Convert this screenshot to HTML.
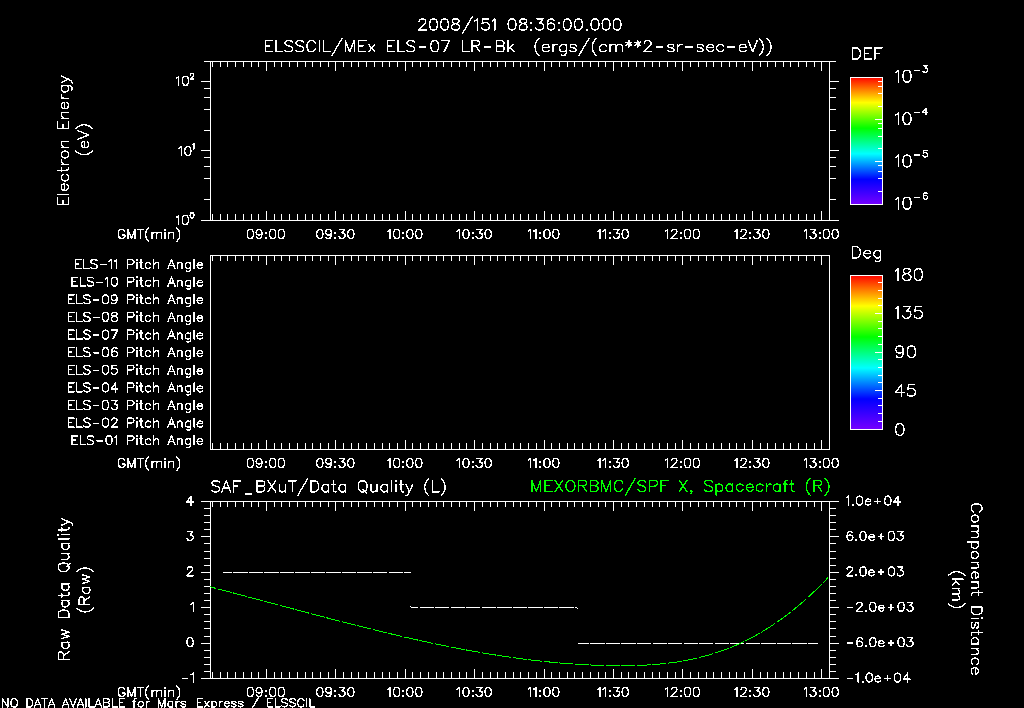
<!DOCTYPE html>
<html><head><meta charset="utf-8"><title>ELSSCIL/MEx ELS-07 LR-Bk</title>
<style>html,body{margin:0;padding:0;background:#000;}svg{display:block;}</style></head>
<body><svg width="1024" height="708" viewBox="0 0 1024 708">
<defs><linearGradient id="rb" x1="0" y1="0" x2="0" y2="1"><stop offset="0" stop-color="#ff0000"/><stop offset="0.2" stop-color="#ffff00"/><stop offset="0.4" stop-color="#00ff00"/><stop offset="0.6" stop-color="#00ffff"/><stop offset="0.8" stop-color="#0000ff"/><stop offset="1" stop-color="#7800ff"/></linearGradient></defs>
<rect width="1024" height="708" fill="#000"/>
<rect x="850" y="77" width="33" height="128" fill="url(#rb)"/><rect x="850" y="275" width="33" height="155" fill="url(#rb)"/>
<path d="M210 61.5H830M210 220.5H830M210.5 61V221M829.5 61V221M212.5 62V67M212.5 214V220M220.5 62V67M220.5 214V220M227.5 62V67M227.5 214V220M235.5 62V67M235.5 214V220M243.5 62V67M243.5 214V220M251.5 62V67M251.5 214V220M258.5 62V67M258.5 214V220M266.5 62V71M266.5 211V220M274.5 62V67M274.5 214V220M281.5 62V67M281.5 214V220M289.5 62V67M289.5 214V220M297.5 62V67M297.5 214V220M305.5 62V67M305.5 214V220M312.5 62V67M312.5 214V220M320.5 62V67M320.5 214V220M328.5 62V67M328.5 214V220M335.5 62V71M335.5 211V220M343.5 62V67M343.5 214V220M351.5 62V67M351.5 214V220M358.5 62V67M358.5 214V220M366.5 62V67M366.5 214V220M374.5 62V67M374.5 214V220M382.5 62V67M382.5 214V220M389.5 62V67M389.5 214V220M397.5 62V67M397.5 214V220M405.5 62V71M405.5 211V220M412.5 62V67M412.5 214V220M420.5 62V67M420.5 214V220M428.5 62V67M428.5 214V220M436.5 62V67M436.5 214V220M443.5 62V67M443.5 214V220M451.5 62V67M451.5 214V220M459.5 62V67M459.5 214V220M466.5 62V67M466.5 214V220M474.5 62V71M474.5 211V220M482.5 62V67M482.5 214V220M490.5 62V67M490.5 214V220M497.5 62V67M497.5 214V220M505.5 62V67M505.5 214V220M513.5 62V67M513.5 214V220M520.5 62V67M520.5 214V220M528.5 62V67M528.5 214V220M536.5 62V67M536.5 214V220M544.5 62V71M544.5 211V220M551.5 62V67M551.5 214V220M559.5 62V67M559.5 214V220M567.5 62V67M567.5 214V220M574.5 62V67M574.5 214V220M582.5 62V67M582.5 214V220M590.5 62V67M590.5 214V220M598.5 62V67M598.5 214V220M605.5 62V67M605.5 214V220M613.5 62V71M613.5 211V220M621.5 62V67M621.5 214V220M628.5 62V67M628.5 214V220M636.5 62V67M636.5 214V220M644.5 62V67M644.5 214V220M652.5 62V67M652.5 214V220M659.5 62V67M659.5 214V220M667.5 62V67M667.5 214V220M675.5 62V67M675.5 214V220M682.5 62V71M682.5 211V220M690.5 62V67M690.5 214V220M698.5 62V67M698.5 214V220M706.5 62V67M706.5 214V220M713.5 62V67M713.5 214V220M721.5 62V67M721.5 214V220M729.5 62V67M729.5 214V220M736.5 62V67M736.5 214V220M744.5 62V67M744.5 214V220M752.5 62V71M752.5 211V220M760.5 62V67M760.5 214V220M767.5 62V67M767.5 214V220M775.5 62V67M775.5 214V220M783.5 62V67M783.5 214V220M790.5 62V67M790.5 214V220M798.5 62V67M798.5 214V220M806.5 62V67M806.5 214V220M814.5 62V67M814.5 214V220M821.5 62V71M821.5 211V220M210 255.5H830M210 449.5H830M210.5 255V450M829.5 255V450M212.5 256V261M212.5 443V449M220.5 256V261M220.5 443V449M227.5 256V261M227.5 443V449M235.5 256V261M235.5 443V449M243.5 256V261M243.5 443V449M251.5 256V261M251.5 443V449M258.5 256V261M258.5 443V449M266.5 256V265M266.5 440V449M274.5 256V261M274.5 443V449M281.5 256V261M281.5 443V449M289.5 256V261M289.5 443V449M297.5 256V261M297.5 443V449M305.5 256V261M305.5 443V449M312.5 256V261M312.5 443V449M320.5 256V261M320.5 443V449M328.5 256V261M328.5 443V449M335.5 256V265M335.5 440V449M343.5 256V261M343.5 443V449M351.5 256V261M351.5 443V449M358.5 256V261M358.5 443V449M366.5 256V261M366.5 443V449M374.5 256V261M374.5 443V449M382.5 256V261M382.5 443V449M389.5 256V261M389.5 443V449M397.5 256V261M397.5 443V449M405.5 256V265M405.5 440V449M412.5 256V261M412.5 443V449M420.5 256V261M420.5 443V449M428.5 256V261M428.5 443V449M436.5 256V261M436.5 443V449M443.5 256V261M443.5 443V449M451.5 256V261M451.5 443V449M459.5 256V261M459.5 443V449M466.5 256V261M466.5 443V449M474.5 256V265M474.5 440V449M482.5 256V261M482.5 443V449M490.5 256V261M490.5 443V449M497.5 256V261M497.5 443V449M505.5 256V261M505.5 443V449M513.5 256V261M513.5 443V449M520.5 256V261M520.5 443V449M528.5 256V261M528.5 443V449M536.5 256V261M536.5 443V449M544.5 256V265M544.5 440V449M551.5 256V261M551.5 443V449M559.5 256V261M559.5 443V449M567.5 256V261M567.5 443V449M574.5 256V261M574.5 443V449M582.5 256V261M582.5 443V449M590.5 256V261M590.5 443V449M598.5 256V261M598.5 443V449M605.5 256V261M605.5 443V449M613.5 256V265M613.5 440V449M621.5 256V261M621.5 443V449M628.5 256V261M628.5 443V449M636.5 256V261M636.5 443V449M644.5 256V261M644.5 443V449M652.5 256V261M652.5 443V449M659.5 256V261M659.5 443V449M667.5 256V261M667.5 443V449M675.5 256V261M675.5 443V449M682.5 256V265M682.5 440V449M690.5 256V261M690.5 443V449M698.5 256V261M698.5 443V449M706.5 256V261M706.5 443V449M713.5 256V261M713.5 443V449M721.5 256V261M721.5 443V449M729.5 256V261M729.5 443V449M736.5 256V261M736.5 443V449M744.5 256V261M744.5 443V449M752.5 256V265M752.5 440V449M760.5 256V261M760.5 443V449M767.5 256V261M767.5 443V449M775.5 256V261M775.5 443V449M783.5 256V261M783.5 443V449M790.5 256V261M790.5 443V449M798.5 256V261M798.5 443V449M806.5 256V261M806.5 443V449M814.5 256V261M814.5 443V449M821.5 256V265M821.5 440V449M210 501.5H830M210 678.5H830M210.5 501V679M829.5 501V679M212.5 502V507M212.5 672V678M220.5 502V507M220.5 672V678M227.5 502V507M227.5 672V678M235.5 502V507M235.5 672V678M243.5 502V507M243.5 672V678M251.5 502V507M251.5 672V678M258.5 502V507M258.5 672V678M266.5 502V511M266.5 669V678M274.5 502V507M274.5 672V678M281.5 502V507M281.5 672V678M289.5 502V507M289.5 672V678M297.5 502V507M297.5 672V678M305.5 502V507M305.5 672V678M312.5 502V507M312.5 672V678M320.5 502V507M320.5 672V678M328.5 502V507M328.5 672V678M335.5 502V511M335.5 669V678M343.5 502V507M343.5 672V678M351.5 502V507M351.5 672V678M358.5 502V507M358.5 672V678M366.5 502V507M366.5 672V678M374.5 502V507M374.5 672V678M382.5 502V507M382.5 672V678M389.5 502V507M389.5 672V678M397.5 502V507M397.5 672V678M405.5 502V511M405.5 669V678M412.5 502V507M412.5 672V678M420.5 502V507M420.5 672V678M428.5 502V507M428.5 672V678M436.5 502V507M436.5 672V678M443.5 502V507M443.5 672V678M451.5 502V507M451.5 672V678M459.5 502V507M459.5 672V678M466.5 502V507M466.5 672V678M474.5 502V511M474.5 669V678M482.5 502V507M482.5 672V678M490.5 502V507M490.5 672V678M497.5 502V507M497.5 672V678M505.5 502V507M505.5 672V678M513.5 502V507M513.5 672V678M520.5 502V507M520.5 672V678M528.5 502V507M528.5 672V678M536.5 502V507M536.5 672V678M544.5 502V511M544.5 669V678M551.5 502V507M551.5 672V678M559.5 502V507M559.5 672V678M567.5 502V507M567.5 672V678M574.5 502V507M574.5 672V678M582.5 502V507M582.5 672V678M590.5 502V507M590.5 672V678M598.5 502V507M598.5 672V678M605.5 502V507M605.5 672V678M613.5 502V511M613.5 669V678M621.5 502V507M621.5 672V678M628.5 502V507M628.5 672V678M636.5 502V507M636.5 672V678M644.5 502V507M644.5 672V678M652.5 502V507M652.5 672V678M659.5 502V507M659.5 672V678M667.5 502V507M667.5 672V678M675.5 502V507M675.5 672V678M682.5 502V511M682.5 669V678M690.5 502V507M690.5 672V678M698.5 502V507M698.5 672V678M706.5 502V507M706.5 672V678M713.5 502V507M713.5 672V678M721.5 502V507M721.5 672V678M729.5 502V507M729.5 672V678M736.5 502V507M736.5 672V678M744.5 502V507M744.5 672V678M752.5 502V511M752.5 669V678M760.5 502V507M760.5 672V678M767.5 502V507M767.5 672V678M775.5 502V507M775.5 672V678M783.5 502V507M783.5 672V678M790.5 502V507M790.5 672V678M798.5 502V507M798.5 672V678M806.5 502V507M806.5 672V678M814.5 502V507M814.5 672V678M821.5 502V511M821.5 669V678M201 220.5H210M830 220.5H839M201 150.5H210M830 150.5H839M201 81.5H210M830 81.5H839M204 199.5H210M830 199.5H836M204 178.5H210M830 178.5H836M204 166.5H210M830 166.5H836M204 157.5H210M830 157.5H836M204 130.5H210M830 130.5H836M204 109.5H210M830 109.5H836M204 97.5H210M830 97.5H836M204 88.5H210M830 88.5H836M204 61.5H210M830 61.5H836M201 501.5H210M830 501.5H839M204 508.5H210M830 508.5H836M204 515.5H210M830 515.5H836M204 522.5H210M830 522.5H836M204 529.5H210M830 529.5H836M201 536.5H210M830 536.5H839M204 543.5H210M830 543.5H836M204 551.5H210M830 551.5H836M204 558.5H210M830 558.5H836M204 565.5H210M830 565.5H836M201 572.5H210M830 572.5H839M204 579.5H210M830 579.5H836M204 586.5H210M830 586.5H836M204 593.5H210M830 593.5H836M204 600.5H210M830 600.5H836M201 607.5H210M830 607.5H839M204 614.5H210M830 614.5H836M204 621.5H210M830 621.5H836M204 628.5H210M830 628.5H836M204 636.5H210M830 636.5H836M201 643.5H210M830 643.5H839M204 650.5H210M830 650.5H836M204 657.5H210M830 657.5H836M204 664.5H210M830 664.5H836M204 671.5H210M830 671.5H836M201 678.5H210M830 678.5H839M850 77.5H883M850 204.5H883M850.5 77V205M882.5 77V205M875 119.5H882M875 161.5H882M878 106.5H882M878 93.5H882M878 86.5H882M878 81.5H882M878 148.5H882M878 136.5H882M878 128.5H882M878 123.5H882M878 191.5H882M878 178.5H882M878 171.5H882M878 165.5H882M850 275.5H883M850 429.5H883M850.5 275V430M882.5 275V430M875 390.5H882M875 352.5H882M875 313.5H882M878 421.5H882M878 413.5H882M878 405.5H882M878 398.5H882M878 382.5H882M878 375.5H882M878 367.5H882M878 359.5H882M878 344.5H882M878 336.5H882M878 328.5H882M878 321.5H882M878 305.5H882M878 298.5H882M878 290.5H882M878 282.5H882M223 572.5H232M233.2 572.5H247.53M248.73 572.5H263.06M264.26 572.5H278.59M279.79 572.5H294.12M295.32 572.5H309.65M310.85 572.5H325.18M326.38 572.5H340.71M341.91 572.5H356.24M357.44 572.5H371.77M372.97 572.5H387.3M388.5 572.5H402.83M404.03 572.5H411M411 607.5H418.36M419.56 607.5H433.89M435.09 607.5H449.42M450.62 607.5H464.95M466.15 607.5H480.48M481.68 607.5H496.01M497.21 607.5H511.54M512.74 607.5H527.07M528.27 607.5H542.6M543.8 607.5H558.13M559.33 607.5H573.66M574.86 607.5H577M410 606.5h1M577 608.5h1M578 643.5H589.19M590.39 643.5H604.72M605.92 643.5H620.25M621.45 643.5H635.78M636.98 643.5H651.31M652.51 643.5H666.84M668.04 643.5H682.37M683.57 643.5H697.9M699.1 643.5H713.43M714.63 643.5H728.96M730.16 643.5H744.49M745.69 643.5H760.02M761.22 643.5H775.55M776.75 643.5H791.08M792.28 643.5H806.61M807.81 643.5H818" stroke="#fff" stroke-width="1" fill="none" shape-rendering="crispEdges"/>
<path d="M210 586.85 L211 587.11 L212 587.37 L213 587.63 L214 587.89 L215 588.15 L216 588.41M217.57 588.82 L218.57 589.08 L219.57 589.34 L220.57 589.6 L221.57 589.87 L222.57 590.13 L223.57 590.39 L224.57 590.65 L225.57 590.92 L226.57 591.18 L227.57 591.44 L228.57 591.7 L229.57 591.97 L230.57 592.23 L231.57 592.49M233.1 592.9 L234.1 593.16 L235.1 593.43 L236.1 593.69 L237.1 593.96 L238.1 594.22 L239.1 594.49 L240.1 594.75 L241.1 595.02 L242.1 595.28 L243.1 595.55 L244.1 595.81 L245.1 596.08 L246.1 596.35 L247.1 596.61M248.63 597.02 L249.63 597.29 L250.63 597.55 L251.63 597.82 L252.63 598.09 L253.63 598.35 L254.63 598.62 L255.63 598.89 L256.63 599.15 L257.63 599.42 L258.63 599.69 L259.63 599.95 L260.63 600.22 L261.63 600.49 L262.63 600.76M264.16 601.17 L265.16 601.43 L266.16 601.7 L267.16 601.97 L268.16 602.24 L269.16 602.5 L270.16 602.77 L271.16 603.04 L272.16 603.31 L273.16 603.57 L274.16 603.84 L275.16 604.11 L276.16 604.38 L277.16 604.64 L278.16 604.91M279.69 605.32 L280.69 605.59 L281.69 605.86 L282.69 606.12 L283.69 606.39 L284.69 606.66 L285.69 606.93 L286.69 607.19 L287.69 607.46 L288.69 607.73 L289.69 608 L290.69 608.26 L291.69 608.53 L292.69 608.8 L293.69 609.06M295.22 609.47 L296.22 609.74 L297.22 610 L298.22 610.27 L299.22 610.54 L300.22 610.8 L301.22 611.07 L302.22 611.33 L303.22 611.6 L304.22 611.87 L305.22 612.13 L306.22 612.4 L307.22 612.66 L308.22 612.93 L309.22 613.19M310.75 613.6 L311.75 613.86 L312.75 614.13 L313.75 614.39 L314.75 614.65 L315.75 614.92 L316.75 615.18 L317.75 615.44 L318.75 615.71 L319.75 615.97 L320.75 616.23 L321.75 616.5 L322.75 616.76 L323.75 617.02 L324.75 617.28M326.28 617.68 L327.28 617.94 L328.28 618.2 L329.28 618.47 L330.28 618.73 L331.28 618.99 L332.28 619.25 L333.28 619.51 L334.28 619.77 L335.28 620.02 L336.28 620.28 L337.28 620.54 L338.28 620.8 L339.28 621.06 L340.28 621.32M341.81 621.71 L342.81 621.97 L343.81 622.22 L344.81 622.48 L345.81 622.74 L346.81 622.99 L347.81 623.25 L348.81 623.5 L349.81 623.76 L350.81 624.01 L351.81 624.27 L352.81 624.52 L353.81 624.77 L354.81 625.03 L355.81 625.28M357.34 625.67 L358.34 625.92 L359.34 626.17 L360.34 626.42 L361.34 626.67 L362.34 626.92 L363.34 627.17 L364.34 627.42 L365.34 627.67 L366.34 627.92 L367.34 628.17 L368.34 628.42 L369.34 628.66 L370.34 628.91 L371.34 629.16M372.87 629.53 L373.87 629.78 L374.87 630.02 L375.87 630.27 L376.87 630.51 L377.87 630.76 L378.87 631 L379.87 631.24 L380.87 631.48 L381.87 631.73 L382.87 631.97 L383.87 632.21 L384.87 632.45 L385.87 632.69 L386.87 632.93M388.4 633.29 L389.4 633.53 L390.4 633.77 L391.4 634 L392.4 634.24 L393.4 634.48 L394.4 634.71 L395.4 634.95 L396.4 635.18 L397.4 635.42 L398.4 635.65 L399.4 635.88 L400.4 636.11 L401.4 636.35 L402.4 636.58M403.93 636.93 L404.93 637.16 L405.93 637.39 L406.93 637.62 L407.93 637.84 L408.93 638.07 L409.93 638.3 L410.93 638.52 L411.93 638.75 L412.93 638.97 L413.93 639.2 L414.93 639.42 L415.93 639.65 L416.93 639.87 L417.93 640.09M419.46 640.43 L420.46 640.65 L421.46 640.87 L422.46 641.09 L423.46 641.3 L424.46 641.52 L425.46 641.74 L426.46 641.95 L427.46 642.17 L428.46 642.38 L429.46 642.6 L430.46 642.81 L431.46 643.02 L432.46 643.24 L433.46 643.45M434.99 643.77 L435.99 643.98 L436.99 644.19 L437.99 644.4 L438.99 644.6 L439.99 644.81 L440.99 645.01 L441.99 645.22 L442.99 645.42 L443.99 645.63 L444.99 645.83 L445.99 646.03 L446.99 646.23 L447.99 646.43 L448.99 646.63M450.52 646.94 L451.52 647.14 L452.52 647.33 L453.52 647.53 L454.52 647.72 L455.52 647.92 L456.52 648.11 L457.52 648.31 L458.52 648.5 L459.52 648.69 L460.52 648.88 L461.52 649.07 L462.52 649.26 L463.52 649.45 L464.52 649.63M466.05 649.92 L467.05 650.1 L468.05 650.29 L469.05 650.47 L470.05 650.65 L471.05 650.84 L472.05 651.02 L473.05 651.2 L474.05 651.38 L475.05 651.55 L476.05 651.73 L477.05 651.91 L478.05 652.08 L479.05 652.26 L480.05 652.43M481.58 652.69 L482.58 652.87 L483.58 653.04 L484.58 653.21 L485.58 653.37 L486.58 653.54 L487.58 653.71 L488.58 653.87 L489.58 654.04 L490.58 654.2 L491.58 654.36 L492.58 654.53 L493.58 654.69 L494.58 654.85 L495.58 655.01M497.11 655.25 L498.11 655.4 L499.11 655.56 L500.11 655.71 L501.11 655.87 L502.11 656.02 L503.11 656.17 L504.11 656.32 L505.11 656.47 L506.11 656.62 L507.11 656.77 L508.11 656.91 L509.11 657.06 L510.11 657.2 L511.11 657.34M512.64 657.56 L513.64 657.7 L514.64 657.84 L515.64 657.98 L516.64 658.12 L517.64 658.25 L518.64 658.39 L519.64 658.52 L520.64 658.66 L521.64 658.79 L522.64 658.92 L523.64 659.05 L524.64 659.18 L525.64 659.3 L526.64 659.43M528.17 659.62 L529.17 659.74 L530.17 659.87 L531.17 659.99 L532.17 660.11 L533.17 660.23 L534.17 660.35 L535.17 660.46 L536.17 660.58 L537.17 660.69 L538.17 660.8 L539.17 660.92 L540.17 661.03 L541.17 661.14 L542.17 661.25M543.7 661.41 L544.7 661.51 L545.7 661.62 L546.7 661.72 L547.7 661.82 L548.7 661.92 L549.7 662.02 L550.7 662.12 L551.7 662.22 L552.7 662.31 L553.7 662.41 L554.7 662.5 L555.7 662.59 L556.7 662.69 L557.7 662.77M559.23 662.91 L560.23 663 L561.23 663.08 L562.23 663.16 L563.23 663.25 L564.23 663.33 L565.23 663.41 L566.23 663.49 L567.23 663.56 L568.23 663.64 L569.23 663.71 L570.23 663.79 L571.23 663.86 L572.23 663.93 L573.23 664M574.76 664.1 L575.76 664.17 L576.76 664.24 L577.76 664.3 L578.76 664.36 L579.76 664.42 L580.76 664.48 L581.76 664.54 L582.76 664.6 L583.76 664.65 L584.76 664.7 L585.76 664.76 L586.76 664.81 L587.76 664.86 L588.76 664.91M590.29 664.98 L591.29 665.02 L592.29 665.07 L593.29 665.11 L594.29 665.15 L595.29 665.19 L596.29 665.23 L597.29 665.26 L598.29 665.3 L599.29 665.33 L600.29 665.36 L601.29 665.39 L602.29 665.42 L603.29 665.45 L604.29 665.48M605.82 665.51 L606.82 665.54 L607.82 665.56 L608.82 665.58 L609.82 665.6 L610.82 665.61 L611.82 665.63 L612.82 665.64 L613.82 665.65 L614.82 665.66 L615.82 665.67 L616.82 665.68 L617.82 665.69 L618.82 665.69 L619.82 665.69M621.35 665.69 L622.35 665.69 L623.35 665.69 L624.35 665.68 L625.35 665.68 L626.35 665.67 L627.35 665.66 L628.35 665.65 L629.35 665.63 L630.35 665.61 L631.35 665.59 L632.35 665.57 L633.35 665.55 L634.35 665.53 L635.35 665.5M636.88 665.45 L637.88 665.42 L638.88 665.38 L639.88 665.35 L640.88 665.31 L641.88 665.26 L642.88 665.22 L643.88 665.17 L644.88 665.12 L645.88 665.07 L646.88 665.01 L647.88 664.95 L648.88 664.89 L649.88 664.83 L650.88 664.76M652.41 664.66 L653.41 664.58 L654.41 664.51 L655.41 664.43 L656.41 664.35 L657.41 664.26 L658.41 664.17 L659.41 664.08 L660.41 663.99 L661.41 663.89 L662.41 663.79 L663.41 663.68 L664.41 663.58 L665.41 663.47 L666.41 663.35M667.94 663.17 L668.94 663.05 L669.94 662.92 L670.94 662.8 L671.94 662.66 L672.94 662.53 L673.94 662.39 L674.94 662.24 L675.94 662.1 L676.94 661.95 L677.94 661.79 L678.94 661.63 L679.94 661.47 L680.94 661.3 L681.94 661.13M683.47 660.87 L684.47 660.69 L685.47 660.5 L686.47 660.32 L687.47 660.12 L688.47 659.93 L689.47 659.73 L690.47 659.52 L691.47 659.31 L692.47 659.1 L693.47 658.88 L694.47 658.66 L695.47 658.44 L696.47 658.21 L697.47 657.97M699 657.61 L700 657.36 L701 657.11 L702 656.85 L703 656.59 L704 656.33 L705 656.06 L706 655.79 L707 655.51 L708 655.22 L709 654.94 L710 654.64 L711 654.35 L712 654.04 L713 653.73M714.53 653.25 L715.53 652.93 L716.53 652.61 L717.53 652.28 L718.53 651.94 L719.53 651.6 L720.53 651.25 L721.53 650.9 L722.53 650.54 L723.53 650.18 L724.53 649.81 L725.53 649.44 L726.53 649.06 L727.53 648.67 L728.53 648.28M730.06 647.68 L731.06 647.27 L732.06 646.86 L733.06 646.45 L734.06 646.02 L735.06 645.6 L736.06 645.16 L737.06 644.73 L738.06 644.28 L739.06 643.83 L740.06 643.37 L741.06 642.91 L742.06 642.44 L743.06 641.97 L744.06 641.49M745.59 640.74 L746.59 640.24 L747.59 639.74 L748.59 639.23 L749.59 638.72 L750.59 638.2 L751.59 637.67 L752.59 637.14 L753.59 636.6 L754.59 636.05 L755.59 635.5 L756.59 634.94 L757.59 634.37 L758.59 633.8 L759.59 633.22M761.12 632.33 L762.12 631.73 L763.12 631.13 L764.12 630.52 L765.12 629.91 L766.12 629.29 L767.12 628.66 L768.12 628.03 L769.12 627.39 L770.12 626.75 L771.12 626.09 L772.12 625.43 L773.12 624.77 L774.12 624.1 L775.12 623.42M776.65 622.37 L777.65 621.67 L778.65 620.97 L779.65 620.26 L780.65 619.54 L781.65 618.82 L782.65 618.09 L783.65 617.35 L784.65 616.61 L785.65 615.86 L786.65 615.11 L787.65 614.34 L788.65 613.57 L789.65 612.79 L790.65 612.01M792.18 610.8 L793.18 610 L794.18 609.19 L795.18 608.37 L796.18 607.55 L797.18 606.72 L798.18 605.88 L799.18 605.04 L800.18 604.19 L801.18 603.33 L802.18 602.47 L803.18 601.6 L804.18 600.72 L805.18 599.83 L806.18 598.94M807.71 597.56 L808.71 596.65 L809.71 595.73 L810.71 594.81 L811.71 593.87 L812.71 592.93 L813.71 591.99 L814.71 591.03 L815.71 590.07 L816.71 589.1 L817.71 588.12 L818.71 587.14 L819.71 586.15 L820.71 585.15 L821.71 584.15M823.24 582.59 L824.24 581.57 L825.24 580.54 L826.24 579.5 L827.24 578.45 L828.24 577.39" stroke="#00ff00" stroke-width="1" fill="none" shape-rendering="crispEdges"/>
<g stroke-linecap="round" stroke-linejoin="round" shape-rendering="crispEdges" font-family="Liberation Sans, sans-serif">
<g role="img" aria-label="2008/151 08:36:00.000"><title>2008/151 08:36:00.000</title><path d="M419.15 21.55 L419.15 21.02 L419.71 19.96 L420.26 19.43 L421.37 18.9 L423.58 18.9 L424.68 19.43 L425.24 19.96 L425.79 21.02 L425.79 22.09 L425.24 23.15 L424.13 24.74 L418.6 30.05 L426.34 30.05M432.98 18.9 L431.32 19.43 L430.21 21.02 L429.66 23.68 L429.66 25.27 L430.21 27.92 L431.32 29.52 L432.98 30.05 L434.08 30.05 L435.74 29.52 L436.85 27.92 L437.4 25.27 L437.4 23.68 L436.85 21.02 L435.74 19.43 L434.08 18.9 L432.98 18.9M444.04 18.9 L442.38 19.43 L441.27 21.02 L440.72 23.68 L440.72 25.27 L441.27 27.92 L442.38 29.52 L444.04 30.05 L445.14 30.05 L446.8 29.52 L447.91 27.92 L448.46 25.27 L448.46 23.68 L447.91 21.02 L446.8 19.43 L445.14 18.9 L444.04 18.9M454.55 18.9 L452.89 19.43 L452.33 20.49 L452.33 21.55 L452.89 22.62 L453.99 23.15 L456.2 23.68 L457.86 24.21 L458.97 25.27 L459.52 26.33 L459.52 27.92 L458.97 28.99 L458.42 29.52 L456.76 30.05 L454.55 30.05 L452.89 29.52 L452.33 28.99 L451.78 27.92 L451.78 26.33 L452.33 25.27 L453.44 24.21 L455.1 23.68 L457.31 23.15 L458.42 22.62 L458.97 21.55 L458.97 20.49 L458.42 19.43 L456.76 18.9 L454.55 18.9M472.24 16.78 L462.29 33.76M474.45 21.02 L475.56 20.49 L477.22 18.9 L477.22 30.05M488.28 18.9 L482.75 18.9 L482.2 23.68 L482.75 23.15 L484.41 22.62 L486.07 22.62 L487.73 23.15 L488.83 24.21 L489.38 25.8 L489.38 26.86 L488.83 28.46 L487.73 29.52 L486.07 30.05 L484.41 30.05 L482.75 29.52 L482.2 28.99 L481.64 27.92M492.15 21.02 L493.26 20.49 L494.91 18.9 L494.91 30.05M511.5 18.9 L509.85 19.43 L508.74 21.02 L508.19 23.68 L508.19 25.27 L508.74 27.92 L509.85 29.52 L511.5 30.05 L512.61 30.05 L514.27 29.52 L515.38 27.92 L515.93 25.27 L515.93 23.68 L515.38 21.02 L514.27 19.43 L512.61 18.9 L511.5 18.9M522.01 18.9 L520.35 19.43 L519.8 20.49 L519.8 21.55 L520.35 22.62 L521.46 23.15 L523.67 23.68 L525.33 24.21 L526.44 25.27 L526.99 26.33 L526.99 27.92 L526.44 28.99 L525.88 29.52 L524.22 30.05 L522.01 30.05 L520.35 29.52 L519.8 28.99 L519.25 27.92 L519.25 26.33 L519.8 25.27 L520.91 24.21 L522.56 23.68 L524.78 23.15 L525.88 22.62 L526.44 21.55 L526.44 20.49 L525.88 19.43 L524.22 18.9 L522.01 18.9M536.94 18.9 L543.03 18.9 L539.71 23.15 L541.37 23.15 L542.47 23.68 L543.03 24.21 L543.58 25.8 L543.58 26.86 L543.03 28.46 L541.92 29.52 L540.26 30.05 L538.6 30.05 L536.94 29.52 L536.39 28.99 L535.84 27.92M554.09 20.49 L553.53 19.43 L551.87 18.9 L550.77 18.9 L549.11 19.43 L548 21.02 L547.45 23.68 L547.45 26.33 L548 28.46 L549.11 29.52 L550.77 30.05 L551.32 30.05 L552.98 29.52 L554.09 28.46 L554.64 26.86 L554.64 26.33 L554.09 24.74 L552.98 23.68 L551.32 23.15 L550.77 23.15 L549.11 23.68 L548 24.74 L547.45 26.33M566.8 18.9 L565.14 19.43 L564.04 21.02 L563.49 23.68 L563.49 25.27 L564.04 27.92 L565.14 29.52 L566.8 30.05 L567.91 30.05 L569.57 29.52 L570.68 27.92 L571.23 25.27 L571.23 23.68 L570.68 21.02 L569.57 19.43 L567.91 18.9 L566.8 18.9M577.86 18.9 L576.21 19.43 L575.1 21.02 L574.55 23.68 L574.55 25.27 L575.1 27.92 L576.21 29.52 L577.86 30.05 L578.97 30.05 L580.63 29.52 L581.74 27.92 L582.29 25.27 L582.29 23.68 L581.74 21.02 L580.63 19.43 L578.97 18.9 L577.86 18.9M594.45 18.9 L592.8 19.43 L591.69 21.02 L591.14 23.68 L591.14 25.27 L591.69 27.92 L592.8 29.52 L594.45 30.05 L595.56 30.05 L597.22 29.52 L598.33 27.92 L598.88 25.27 L598.88 23.68 L598.33 21.02 L597.22 19.43 L595.56 18.9 L594.45 18.9M605.51 18.9 L603.86 19.43 L602.75 21.02 L602.2 23.68 L602.2 25.27 L602.75 27.92 L603.86 29.52 L605.51 30.05 L606.62 30.05 L608.28 29.52 L609.38 27.92 L609.94 25.27 L609.94 23.68 L609.38 21.02 L608.28 19.43 L606.62 18.9 L605.51 18.9M616.57 18.9 L614.92 19.43 L613.81 21.02 L613.26 23.68 L613.26 25.27 L613.81 27.92 L614.92 29.52 L616.57 30.05 L617.68 30.05 L619.34 29.52 L620.45 27.92 L621 25.27 L621 23.68 L620.45 21.02 L619.34 19.43 L617.68 18.9 L616.57 18.9" stroke="#fff" stroke-width="1.4" fill="none"/><path d="M530.41 22.15h2v2h-2zM530.41 28.52h2v2h-2zM558.06 22.15h2v2h-2zM558.06 28.52h2v2h-2zM585.71 28.52h2v2h-2z" fill="#fff"/></g>
<g role="img" aria-label="ELSSCIL/MEx ELS-07 LR-Bk  (ergs/(cm**2-sr-sec-eV))"><title>ELSSCIL/MEx ELS-07 LR-Bk  (ergs/(cm**2-sr-sec-eV))</title><path d="M265.4 40.6 L265.4 51.79M265.4 40.6 L272.61 40.6M265.4 45.93 L269.84 45.93M265.4 51.79 L272.61 51.79M275.94 40.6 L275.94 51.79M275.94 51.79 L282.6 51.79M292.59 42.2 L291.48 41.13 L289.82 40.6 L287.6 40.6 L285.93 41.13 L284.82 42.2 L284.82 43.26 L285.38 44.33 L285.93 44.86 L287.04 45.4 L290.37 46.46 L291.48 46.99 L292.04 47.53 L292.59 48.59 L292.59 50.19 L291.48 51.26 L289.82 51.79 L287.6 51.79 L285.93 51.26 L284.82 50.19M303.69 42.2 L302.58 41.13 L300.92 40.6 L298.7 40.6 L297.03 41.13 L295.92 42.2 L295.92 43.26 L296.48 44.33 L297.03 44.86 L298.14 45.4 L301.47 46.46 L302.58 46.99 L303.14 47.53 L303.69 48.59 L303.69 50.19 L302.58 51.26 L300.92 51.79 L298.7 51.79 L297.03 51.26 L295.92 50.19M315.35 43.26 L314.79 42.2 L313.68 41.13 L312.57 40.6 L310.35 40.6 L309.24 41.13 L308.13 42.2 L307.58 43.26 L307.02 44.86 L307.02 47.53 L307.58 49.12 L308.13 50.19 L309.24 51.26 L310.35 51.79 L312.57 51.79 L313.68 51.26 L314.79 50.19 L315.35 49.12M319.23 40.6 L319.23 51.79M323.67 40.6 L323.67 51.79M323.67 51.79 L330.33 51.79M341.99 38.47 L332 55.52M345.32 40.6 L345.32 51.79M345.32 40.6 L349.76 51.79M354.2 40.6 L349.76 51.79M354.2 40.6 L354.2 51.79M358.64 40.6 L358.64 51.79M358.64 40.6 L365.85 40.6M358.64 45.93 L363.08 45.93M358.64 51.79 L365.85 51.79M368.63 44.33 L374.73 51.79M374.73 44.33 L368.63 51.79M387.5 40.6 L387.5 51.79M387.5 40.6 L394.71 40.6M387.5 45.93 L391.94 45.93M387.5 51.79 L394.71 51.79M398.04 40.6 L398.04 51.79M398.04 51.79 L404.7 51.79M414.69 42.2 L413.58 41.13 L411.92 40.6 L409.7 40.6 L408.03 41.13 L406.92 42.2 L406.92 43.26 L407.48 44.33 L408.03 44.86 L409.14 45.4 L412.47 46.46 L413.58 46.99 L414.14 47.53 L414.69 48.59 L414.69 50.19 L413.58 51.26 L411.92 51.79 L409.7 51.79 L408.03 51.26 L406.92 50.19M419.13 46.99 L425.79 46.99M434.12 40.6 L432.45 41.13 L431.34 42.73 L430.79 45.4 L430.79 46.99 L431.34 49.66 L432.45 51.26 L434.12 51.79 L435.23 51.79 L436.89 51.26 L438 49.66 L438.56 46.99 L438.56 45.4 L438 42.73 L436.89 41.13 L435.23 40.6 L434.12 40.6M449.66 40.6 L444.11 51.79M441.89 40.6 L449.66 40.6M462.42 40.6 L462.42 51.79M462.42 51.79 L469.08 51.79M471.86 40.6 L471.86 51.79M471.86 40.6 L476.85 40.6 L478.52 41.13 L479.07 41.67 L479.63 42.73 L479.63 43.8 L479.07 44.86 L478.52 45.4 L476.85 45.93 L471.86 45.93M475.75 45.93 L479.63 51.79M484.07 46.99 L490.73 46.99M496.28 40.6 L496.28 51.79M496.28 40.6 L501.27 40.6 L502.94 41.13 L503.5 41.67 L504.05 42.73 L504.05 43.8 L503.5 44.86 L502.94 45.4 L501.27 45.93M496.28 45.93 L501.27 45.93 L502.94 46.46 L503.5 46.99 L504.05 48.06 L504.05 49.66 L503.5 50.72 L502.94 51.26 L501.27 51.79 L496.28 51.79M507.93 40.6 L507.93 51.79M513.49 44.33 L507.93 49.66M510.15 47.53 L514.04 51.79M539.01 38.47 L537.9 39.53 L536.79 41.13 L535.68 43.26 L535.13 45.93 L535.13 48.06 L535.68 50.72 L536.79 52.85 L537.9 54.45 L539.01 55.52M542.35 47.53 L549 47.53 L549 46.46 L548.45 45.4 L547.89 44.86 L546.78 44.33 L545.12 44.33 L544.01 44.86 L542.9 45.93 L542.35 47.53 L542.35 48.59 L542.9 50.19 L544.01 51.26 L545.12 51.79 L546.78 51.79 L547.89 51.26 L549 50.19M552.89 44.33 L552.89 51.79M552.89 47.53 L553.44 45.93 L554.55 44.86 L555.66 44.33 L557.33 44.33M566.21 44.33 L566.21 52.85 L565.65 54.45 L565.1 54.99 L563.99 55.52 L562.33 55.52 L561.21 54.99M566.21 45.93 L565.1 44.86 L563.99 44.33 L562.33 44.33 L561.21 44.86 L560.11 45.93 L559.55 47.53 L559.55 48.59 L560.11 50.19 L561.21 51.26 L562.33 51.79 L563.99 51.79 L565.1 51.26 L566.21 50.19M576.2 45.93 L575.64 44.86 L573.98 44.33 L572.32 44.33 L570.65 44.86 L570.1 45.93 L570.65 46.99 L571.76 47.53 L574.53 48.06 L575.64 48.59 L576.2 49.66 L576.2 50.19 L575.64 51.26 L573.98 51.79 L572.32 51.79 L570.65 51.26 L570.1 50.19M588.96 38.47 L578.97 55.52M596.18 38.47 L595.07 39.53 L593.96 41.13 L592.85 43.26 L592.29 45.93 L592.29 48.06 L592.85 50.72 L593.96 52.85 L595.07 54.45 L596.18 55.52M606.17 45.93 L605.06 44.86 L603.95 44.33 L602.28 44.33 L601.17 44.86 L600.07 45.93 L599.51 47.53 L599.51 48.59 L600.07 50.19 L601.17 51.26 L602.28 51.79 L603.95 51.79 L605.06 51.26 L606.17 50.19M610.06 44.33 L610.06 51.79M610.06 46.46 L611.72 44.86 L612.83 44.33 L614.5 44.33 L615.61 44.86 L616.16 46.46 L616.16 51.79M616.16 46.46 L617.83 44.86 L618.93 44.33 L620.6 44.33 L621.71 44.86 L622.26 46.46 L622.26 51.79M628.92 40.6 L628.92 46.99M626.15 42.2 L631.7 45.4M631.7 42.2 L626.15 45.4M637.81 40.6 L637.81 46.99M635.03 42.2 L640.58 45.4M640.58 42.2 L635.03 45.4M644.46 43.26 L644.46 42.73 L645.02 41.67 L645.58 41.13 L646.68 40.6 L648.9 40.6 L650.01 41.13 L650.57 41.67 L651.12 42.73 L651.12 43.8 L650.57 44.86 L649.46 46.46 L643.91 51.79 L651.68 51.79M656.12 46.99 L662.78 46.99M673.88 45.93 L673.33 44.86 L671.66 44.33 L670 44.33 L668.33 44.86 L667.77 45.93 L668.33 46.99 L669.44 47.53 L672.21 48.06 L673.33 48.59 L673.88 49.66 L673.88 50.19 L673.33 51.26 L671.66 51.79 L670 51.79 L668.33 51.26 L667.77 50.19M677.76 44.33 L677.76 51.79M677.76 47.53 L678.32 45.93 L679.43 44.86 L680.54 44.33 L682.2 44.33M685.53 46.99 L692.19 46.99M703.3 45.93 L702.74 44.86 L701.08 44.33 L699.41 44.33 L697.75 44.86 L697.19 45.93 L697.75 46.99 L698.86 47.53 L701.63 48.06 L702.74 48.59 L703.3 49.66 L703.3 50.19 L702.74 51.26 L701.08 51.79 L699.41 51.79 L697.75 51.26 L697.19 50.19M706.62 47.53 L713.28 47.53 L713.28 46.46 L712.73 45.4 L712.17 44.86 L711.07 44.33 L709.4 44.33 L708.29 44.86 L707.18 45.93 L706.62 47.53 L706.62 48.59 L707.18 50.19 L708.29 51.26 L709.4 51.79 L711.07 51.79 L712.17 51.26 L713.28 50.19M723.27 45.93 L722.16 44.86 L721.06 44.33 L719.39 44.33 L718.28 44.86 L717.17 45.93 L716.62 47.53 L716.62 48.59 L717.17 50.19 L718.28 51.26 L719.39 51.79 L721.06 51.79 L722.16 51.26 L723.27 50.19M727.71 46.99 L734.38 46.99M739.37 47.53 L746.03 47.53 L746.03 46.46 L745.47 45.4 L744.92 44.86 L743.81 44.33 L742.14 44.33 L741.03 44.86 L739.92 45.93 L739.37 47.53 L739.37 48.59 L739.92 50.19 L741.03 51.26 L742.14 51.79 L743.81 51.79 L744.92 51.26 L746.03 50.19M748.25 40.6 L752.69 51.79M757.13 40.6 L752.69 51.79M759.35 38.47 L760.46 39.53 L761.57 41.13 L762.68 43.26 L763.24 45.93 L763.24 48.06 L762.68 50.72 L761.57 52.85 L760.46 54.45 L759.35 55.52M767.12 38.47 L768.23 39.53 L769.34 41.13 L770.45 43.26 L771 45.93 L771 48.06 L770.45 50.72 L769.34 52.85 L768.23 54.45 L767.12 55.52" stroke="#fff" stroke-width="1.4" fill="none"/></g>
<g role="img" aria-label="DEF"><title>DEF</title><path d="M852.6 47.9 L852.6 59.13M852.6 47.9 L856.5 47.9 L858.17 48.43 L859.28 49.5 L859.84 50.57 L860.4 52.18 L860.4 54.85 L859.84 56.46 L859.28 57.52 L858.17 58.59 L856.5 59.13 L852.6 59.13M864.3 47.9 L864.3 59.13M864.3 47.9 L871.54 47.9M864.3 53.25 L868.75 53.25M864.3 59.13 L871.54 59.13M874.88 47.9 L874.88 59.13M874.88 47.9 L882.12 47.9M874.88 53.25 L879.34 53.25" stroke="#fff" stroke-width="1.4" fill="none"/></g>
<g role="img" aria-label="Deg"><title>Deg</title><path d="M852.5 246.6 L852.5 257.89M852.5 246.6 L856.42 246.6 L858.1 247.14 L859.22 248.21 L859.78 249.29 L860.34 250.9 L860.34 253.59 L859.78 255.2 L859.22 256.28 L858.1 257.35 L856.42 257.89 L852.5 257.89M863.7 253.59 L870.42 253.59 L870.42 252.51 L869.86 251.44 L869.3 250.9 L868.18 250.36 L866.5 250.36 L865.38 250.9 L864.26 251.98 L863.7 253.59 L863.7 254.66 L864.26 256.28 L865.38 257.35 L866.5 257.89 L868.18 257.89 L869.3 257.35 L870.42 256.28M880.5 250.36 L880.5 258.96 L879.94 260.58 L879.38 261.12 L878.26 261.65 L876.58 261.65 L875.46 261.12M880.5 251.98 L879.38 250.9 L878.26 250.36 L876.58 250.36 L875.46 250.9 L874.34 251.98 L873.78 253.59 L873.78 254.66 L874.34 256.28 L875.46 257.35 L876.58 257.89 L878.26 257.89 L879.38 257.35 L880.5 256.28" stroke="#fff" stroke-width="1.4" fill="none"/></g>
<g role="img" aria-label="10"><title>10</title><path d="M895.4 72.68 L896.56 72.12 L898.3 70.45 L898.3 82.14M906.42 70.45 L904.68 71.01 L903.52 72.68 L902.94 75.46 L902.94 77.13 L903.52 79.92 L904.68 81.59 L906.42 82.14 L907.58 82.14 L909.32 81.59 L910.48 79.92 L911.06 77.13 L911.06 75.46 L910.48 72.68 L909.32 71.01 L907.58 70.45 L906.42 70.45" stroke="#fff" stroke-width="1.4" fill="none"/></g>
<g role="img" aria-label="-"><title>-</title><path d="M914.4 70.21 L919.44 70.21" stroke="#fff" stroke-width="1.4" fill="none"/></g>
<g role="img" aria-label="3"><title>3</title><path d="M923.66 65.8 L927.18 65.8 L925.26 68.26 L926.22 68.26 L926.86 68.56 L927.18 68.87 L927.5 69.79 L927.5 70.41 L927.18 71.33 L926.54 71.94 L925.58 72.25 L924.62 72.25 L923.66 71.94 L923.34 71.64 L923.02 71.02" stroke="#fff" stroke-width="1.4" fill="none"/></g>
<g role="img" aria-label="10"><title>10</title><path d="M895.4 115.01 L896.56 114.45 L898.3 112.78 L898.3 124.48M906.42 112.78 L904.68 113.34 L903.52 115.01 L902.94 117.79 L902.94 119.46 L903.52 122.25 L904.68 123.92 L906.42 124.48 L907.58 124.48 L909.32 123.92 L910.48 122.25 L911.06 119.46 L911.06 117.79 L910.48 115.01 L909.32 113.34 L907.58 112.78 L906.42 112.78" stroke="#fff" stroke-width="1.4" fill="none"/></g>
<g role="img" aria-label="-"><title>-</title><path d="M914.4 112.54 L919.44 112.54" stroke="#fff" stroke-width="1.4" fill="none"/></g>
<g role="img" aria-label="4"><title>4</title><path d="M925.9 108.13 L922.7 112.43 L927.5 112.43M925.9 108.13 L925.9 114.58" stroke="#fff" stroke-width="1.4" fill="none"/></g>
<g role="img" aria-label="10"><title>10</title><path d="M895.4 157.34 L896.56 156.79 L898.3 155.12 L898.3 166.81M906.42 155.12 L904.68 155.67 L903.52 157.34 L902.94 160.13 L902.94 161.8 L903.52 164.58 L904.68 166.25 L906.42 166.81 L907.58 166.81 L909.32 166.25 L910.48 164.58 L911.06 161.8 L911.06 160.13 L910.48 157.34 L909.32 155.67 L907.58 155.12 L906.42 155.12" stroke="#fff" stroke-width="1.4" fill="none"/></g>
<g role="img" aria-label="-"><title>-</title><path d="M914.4 154.88 L919.44 154.88" stroke="#fff" stroke-width="1.4" fill="none"/></g>
<g role="img" aria-label="5"><title>5</title><path d="M926.86 150.47 L923.66 150.47 L923.34 153.23 L923.66 152.92 L924.62 152.62 L925.58 152.62 L926.54 152.92 L927.18 153.54 L927.5 154.46 L927.5 155.07 L927.18 156 L926.54 156.61 L925.58 156.92 L924.62 156.92 L923.66 156.61 L923.34 156.3 L923.02 155.69" stroke="#fff" stroke-width="1.4" fill="none"/></g>
<g role="img" aria-label="10"><title>10</title><path d="M895.4 199.68 L896.56 199.12 L898.3 197.45 L898.3 209.14M906.42 197.45 L904.68 198.01 L903.52 199.68 L902.94 202.46 L902.94 204.13 L903.52 206.92 L904.68 208.59 L906.42 209.14 L907.58 209.14 L909.32 208.59 L910.48 206.92 L911.06 204.13 L911.06 202.46 L910.48 199.68 L909.32 198.01 L907.58 197.45 L906.42 197.45" stroke="#fff" stroke-width="1.4" fill="none"/></g>
<g role="img" aria-label="-"><title>-</title><path d="M914.4 197.21 L919.44 197.21" stroke="#fff" stroke-width="1.4" fill="none"/></g>
<g role="img" aria-label="6"><title>6</title><path d="M927.18 193.72 L926.86 193.11 L925.9 192.8 L925.26 192.8 L924.3 193.11 L923.66 194.03 L923.34 195.56 L923.34 197.1 L923.66 198.33 L924.3 198.94 L925.26 199.25 L925.58 199.25 L926.54 198.94 L927.18 198.33 L927.5 197.41 L927.5 197.1 L927.18 196.18 L926.54 195.56 L925.58 195.26 L925.26 195.26 L924.3 195.56 L923.66 196.18 L923.34 197.1" stroke="#fff" stroke-width="1.4" fill="none"/></g>
<g role="img" aria-label="180"><title>180</title><path d="M895.16 270.93 L896.32 270.37 L898.06 268.7 L898.06 280.39M905.6 268.7 L903.86 269.26 L903.28 270.37 L903.28 271.48 L903.86 272.6 L905.02 273.15 L907.34 273.71 L909.08 274.27 L910.24 275.38 L910.82 276.5 L910.82 278.17 L910.24 279.28 L909.66 279.84 L907.92 280.39 L905.6 280.39 L903.86 279.84 L903.28 279.28 L902.7 278.17 L902.7 276.5 L903.28 275.38 L904.44 274.27 L906.18 273.71 L908.5 273.15 L909.66 272.6 L910.24 271.48 L910.24 270.37 L909.66 269.26 L907.92 268.7 L905.6 268.7M917.78 268.7 L916.04 269.26 L914.88 270.93 L914.3 273.71 L914.3 275.38 L914.88 278.17 L916.04 279.84 L917.78 280.39 L918.94 280.39 L920.68 279.84 L921.84 278.17 L922.42 275.38 L922.42 273.71 L921.84 270.93 L920.68 269.26 L918.94 268.7 L917.78 268.7" stroke="#fff" stroke-width="1.4" fill="none"/></g>
<g role="img" aria-label="135"><title>135</title><path d="M895.16 308.83 L896.32 308.27 L898.06 306.6 L898.06 318.29M903.86 306.6 L910.24 306.6 L906.76 311.05 L908.5 311.05 L909.66 311.61 L910.24 312.17 L910.82 313.84 L910.82 314.95 L910.24 316.62 L909.08 317.74 L907.34 318.29 L905.6 318.29 L903.86 317.74 L903.28 317.18 L902.7 316.07M921.26 306.6 L915.46 306.6 L914.88 311.61 L915.46 311.05 L917.2 310.5 L918.94 310.5 L920.68 311.05 L921.84 312.17 L922.42 313.84 L922.42 314.95 L921.84 316.62 L920.68 317.74 L918.94 318.29 L917.2 318.29 L915.46 317.74 L914.88 317.18 L914.3 316.07" stroke="#fff" stroke-width="1.4" fill="none"/></g>
<g role="img" aria-label="90"><title>90</title><path d="M903.28 349.8 L902.7 351.47 L901.54 352.58 L899.8 353.14 L899.22 353.14 L897.48 352.58 L896.32 351.47 L895.74 349.8 L895.74 349.24 L896.32 347.57 L897.48 346.46 L899.22 345.9 L899.8 345.9 L901.54 346.46 L902.7 347.57 L903.28 349.8 L903.28 352.58 L902.7 355.37 L901.54 357.04 L899.8 357.59 L898.64 357.59 L896.9 357.04 L896.32 355.92M910.82 345.9 L909.08 346.46 L907.92 348.13 L907.34 350.91 L907.34 352.58 L907.92 355.37 L909.08 357.04 L910.82 357.59 L911.98 357.59 L913.72 357.04 L914.88 355.37 L915.46 352.58 L915.46 350.91 L914.88 348.13 L913.72 346.46 L911.98 345.9 L910.82 345.9" stroke="#fff" stroke-width="1.4" fill="none"/></g>
<g role="img" aria-label="45"><title>45</title><path d="M901.54 384.5 L895.74 392.3 L904.44 392.3M901.54 384.5 L901.54 396.19M914.3 384.5 L908.5 384.5 L907.92 389.51 L908.5 388.95 L910.24 388.4 L911.98 388.4 L913.72 388.95 L914.88 390.07 L915.46 391.74 L915.46 392.85 L914.88 394.52 L913.72 395.64 L911.98 396.19 L910.24 396.19 L908.5 395.64 L907.92 395.08 L907.34 393.97" stroke="#fff" stroke-width="1.4" fill="none"/></g>
<g role="img" aria-label="0"><title>0</title><path d="M899.22 423.6 L897.48 424.16 L896.32 425.83 L895.74 428.61 L895.74 430.28 L896.32 433.07 L897.48 434.74 L899.22 435.29 L900.38 435.29 L902.12 434.74 L903.28 433.07 L903.86 430.28 L903.86 428.61 L903.28 425.83 L902.12 424.16 L900.38 423.6 L899.22 423.6" stroke="#fff" stroke-width="1.4" fill="none"/></g>
<g role="img" aria-label="09:00"><title>09:00</title><path d="M249.99 229.5 L248.66 229.93 L247.78 231.2 L247.33 233.33 L247.33 234.6 L247.78 236.73 L248.66 238.01 L249.99 238.43 L250.88 238.43 L252.21 238.01 L253.09 236.73 L253.54 234.6 L253.54 233.33 L253.09 231.2 L252.21 229.93 L250.88 229.5 L249.99 229.5M261.95 232.48 L261.51 233.75 L260.62 234.6 L259.3 235.03 L258.85 235.03 L257.52 234.6 L256.64 233.75 L256.19 232.48 L256.19 232.05 L256.64 230.78 L257.52 229.93 L258.85 229.5 L259.3 229.5 L260.62 229.93 L261.51 230.78 L261.95 232.48 L261.95 234.6 L261.51 236.73 L260.62 238.01 L259.3 238.43 L258.41 238.43 L257.08 238.01 L256.64 237.16M272.14 229.5 L270.81 229.93 L269.93 231.2 L269.48 233.33 L269.48 234.6 L269.93 236.73 L270.81 238.01 L272.14 238.43 L273.03 238.43 L274.36 238.01 L275.24 236.73 L275.69 234.6 L275.69 233.33 L275.24 231.2 L274.36 229.93 L273.03 229.5 L272.14 229.5M281 229.5 L279.67 229.93 L278.79 231.2 L278.34 233.33 L278.34 234.6 L278.79 236.73 L279.67 238.01 L281 238.43 L281.89 238.43 L283.22 238.01 L284.1 236.73 L284.55 234.6 L284.55 233.33 L284.1 231.2 L283.22 229.93 L281.89 229.5 L281 229.5" stroke="#fff" stroke-width="1.4" fill="none"/><path d="M264.94 231.9h2v2h-2zM264.94 237.01h2v2h-2z" fill="#fff"/></g>
<g role="img" aria-label="09:30"><title>09:30</title><path d="M319.4 229.5 L318.08 229.93 L317.19 231.2 L316.75 233.33 L316.75 234.6 L317.19 236.73 L318.08 238.01 L319.4 238.43 L320.29 238.43 L321.62 238.01 L322.51 236.73 L322.95 234.6 L322.95 233.33 L322.51 231.2 L321.62 229.93 L320.29 229.5 L319.4 229.5M331.37 232.48 L330.92 233.75 L330.04 234.6 L328.71 235.03 L328.26 235.03 L326.94 234.6 L326.05 233.75 L325.61 232.48 L325.61 232.05 L326.05 230.78 L326.94 229.93 L328.26 229.5 L328.71 229.5 L330.04 229.93 L330.92 230.78 L331.37 232.48 L331.37 234.6 L330.92 236.73 L330.04 238.01 L328.71 238.43 L327.82 238.43 L326.49 238.01 L326.05 237.16M339.78 229.5 L344.66 229.5 L342 232.9 L343.33 232.9 L344.21 233.33 L344.66 233.75 L345.1 235.03 L345.1 235.88 L344.66 237.16 L343.77 238.01 L342.44 238.43 L341.11 238.43 L339.78 238.01 L339.34 237.58 L338.9 236.73M350.41 229.5 L349.09 229.93 L348.2 231.2 L347.76 233.33 L347.76 234.6 L348.2 236.73 L349.09 238.01 L350.41 238.43 L351.3 238.43 L352.63 238.01 L353.52 236.73 L353.96 234.6 L353.96 233.33 L353.52 231.2 L352.63 229.93 L351.3 229.5 L350.41 229.5" stroke="#fff" stroke-width="1.4" fill="none"/><path d="M334.35 231.9h2v2h-2zM334.35 237.01h2v2h-2z" fill="#fff"/></g>
<g role="img" aria-label="10:00"><title>10:00</title><path d="M387.71 231.2 L388.6 230.78 L389.92 229.5 L389.92 238.43M396.13 229.5 L394.8 229.93 L393.91 231.2 L393.47 233.33 L393.47 234.6 L393.91 236.73 L394.8 238.01 L396.13 238.43 L397.01 238.43 L398.34 238.01 L399.23 236.73 L399.67 234.6 L399.67 233.33 L399.23 231.2 L398.34 229.93 L397.01 229.5 L396.13 229.5M409.42 229.5 L408.09 229.93 L407.2 231.2 L406.76 233.33 L406.76 234.6 L407.2 236.73 L408.09 238.01 L409.42 238.43 L410.3 238.43 L411.63 238.01 L412.52 236.73 L412.96 234.6 L412.96 233.33 L412.52 231.2 L411.63 229.93 L410.3 229.5 L409.42 229.5M418.28 229.5 L416.95 229.93 L416.06 231.2 L415.62 233.33 L415.62 234.6 L416.06 236.73 L416.95 238.01 L418.28 238.43 L419.16 238.43 L420.49 238.01 L421.38 236.73 L421.82 234.6 L421.82 233.33 L421.38 231.2 L420.49 229.93 L419.16 229.5 L418.28 229.5" stroke="#fff" stroke-width="1.4" fill="none"/><path d="M402.21 231.9h2v2h-2zM402.21 237.01h2v2h-2z" fill="#fff"/></g>
<g role="img" aria-label="10:30"><title>10:30</title><path d="M457.12 231.2 L458.01 230.78 L459.34 229.5 L459.34 238.43M465.54 229.5 L464.21 229.93 L463.32 231.2 L462.88 233.33 L462.88 234.6 L463.32 236.73 L464.21 238.01 L465.54 238.43 L466.43 238.43 L467.75 238.01 L468.64 236.73 L469.08 234.6 L469.08 233.33 L468.64 231.2 L467.75 229.93 L466.43 229.5 L465.54 229.5M477.06 229.5 L481.93 229.5 L479.27 232.9 L480.6 232.9 L481.49 233.33 L481.93 233.75 L482.37 235.03 L482.37 235.88 L481.93 237.16 L481.04 238.01 L479.71 238.43 L478.39 238.43 L477.06 238.01 L476.61 237.58 L476.17 236.73M487.69 229.5 L486.36 229.93 L485.47 231.2 L485.03 233.33 L485.03 234.6 L485.47 236.73 L486.36 238.01 L487.69 238.43 L488.57 238.43 L489.9 238.01 L490.79 236.73 L491.23 234.6 L491.23 233.33 L490.79 231.2 L489.9 229.93 L488.57 229.5 L487.69 229.5" stroke="#fff" stroke-width="1.4" fill="none"/><path d="M471.63 231.9h2v2h-2zM471.63 237.01h2v2h-2z" fill="#fff"/></g>
<g role="img" aria-label="11:00"><title>11:00</title><path d="M528.31 231.2 L529.19 230.78 L530.52 229.5 L530.52 238.43M533.62 231.2 L534.51 230.78 L535.84 229.5 L535.84 238.43M546.47 229.5 L545.14 229.93 L544.25 231.2 L543.81 233.33 L543.81 234.6 L544.25 236.73 L545.14 238.01 L546.47 238.43 L547.36 238.43 L548.68 238.01 L549.57 236.73 L550.01 234.6 L550.01 233.33 L549.57 231.2 L548.68 229.93 L547.36 229.5 L546.47 229.5M555.33 229.5 L554 229.93 L553.11 231.2 L552.67 233.33 L552.67 234.6 L553.11 236.73 L554 238.01 L555.33 238.43 L556.22 238.43 L557.54 238.01 L558.43 236.73 L558.87 234.6 L558.87 233.33 L558.43 231.2 L557.54 229.93 L556.22 229.5 L555.33 229.5" stroke="#fff" stroke-width="1.4" fill="none"/><path d="M539.27 231.9h2v2h-2zM539.27 237.01h2v2h-2z" fill="#fff"/></g>
<g role="img" aria-label="11:30"><title>11:30</title><path d="M597.72 231.2 L598.61 230.78 L599.93 229.5 L599.93 238.43M603.04 231.2 L603.92 230.78 L605.25 229.5 L605.25 238.43M614.11 229.5 L618.98 229.5 L616.33 232.9 L617.65 232.9 L618.54 233.33 L618.98 233.75 L619.43 235.03 L619.43 235.88 L618.98 237.16 L618.1 238.01 L616.77 238.43 L615.44 238.43 L614.11 238.01 L613.67 237.58 L613.22 236.73M624.74 229.5 L623.41 229.93 L622.53 231.2 L622.08 233.33 L622.08 234.6 L622.53 236.73 L623.41 238.01 L624.74 238.43 L625.63 238.43 L626.96 238.01 L627.84 236.73 L628.29 234.6 L628.29 233.33 L627.84 231.2 L626.96 229.93 L625.63 229.5 L624.74 229.5" stroke="#fff" stroke-width="1.4" fill="none"/><path d="M608.68 231.9h2v2h-2zM608.68 237.01h2v2h-2z" fill="#fff"/></g>
<g role="img" aria-label="12:00"><title>12:00</title><path d="M665.36 231.2 L666.25 230.78 L667.57 229.5 L667.57 238.43M671.56 231.63 L671.56 231.2 L672 230.35 L672.45 229.93 L673.33 229.5 L675.11 229.5 L675.99 229.93 L676.43 230.35 L676.88 231.2 L676.88 232.05 L676.43 232.9 L675.55 234.18 L671.12 238.43 L677.32 238.43M687.07 229.5 L685.74 229.93 L684.85 231.2 L684.41 233.33 L684.41 234.6 L684.85 236.73 L685.74 238.01 L687.07 238.43 L687.95 238.43 L689.28 238.01 L690.17 236.73 L690.61 234.6 L690.61 233.33 L690.17 231.2 L689.28 229.93 L687.95 229.5 L687.07 229.5M695.93 229.5 L694.6 229.93 L693.71 231.2 L693.27 233.33 L693.27 234.6 L693.71 236.73 L694.6 238.01 L695.93 238.43 L696.81 238.43 L698.14 238.01 L699.03 236.73 L699.47 234.6 L699.47 233.33 L699.03 231.2 L698.14 229.93 L696.81 229.5 L695.93 229.5" stroke="#fff" stroke-width="1.4" fill="none"/><path d="M679.86 231.9h2v2h-2zM679.86 237.01h2v2h-2z" fill="#fff"/></g>
<g role="img" aria-label="12:30"><title>12:30</title><path d="M734.77 231.2 L735.66 230.78 L736.99 229.5 L736.99 238.43M740.97 231.63 L740.97 231.2 L741.42 230.35 L741.86 229.93 L742.75 229.5 L744.52 229.5 L745.4 229.93 L745.85 230.35 L746.29 231.2 L746.29 232.05 L745.85 232.9 L744.96 234.18 L740.53 238.43 L746.73 238.43M754.71 229.5 L759.58 229.5 L756.92 232.9 L758.25 232.9 L759.14 233.33 L759.58 233.75 L760.02 235.03 L760.02 235.88 L759.58 237.16 L758.69 238.01 L757.37 238.43 L756.04 238.43 L754.71 238.01 L754.26 237.58 L753.82 236.73M765.34 229.5 L764.01 229.93 L763.12 231.2 L762.68 233.33 L762.68 234.6 L763.12 236.73 L764.01 238.01 L765.34 238.43 L766.23 238.43 L767.55 238.01 L768.44 236.73 L768.88 234.6 L768.88 233.33 L768.44 231.2 L767.55 229.93 L766.23 229.5 L765.34 229.5" stroke="#fff" stroke-width="1.4" fill="none"/><path d="M749.28 231.9h2v2h-2zM749.28 237.01h2v2h-2z" fill="#fff"/></g>
<g role="img" aria-label="13:00"><title>13:00</title><path d="M804.18 231.2 L805.07 230.78 L806.4 229.5 L806.4 238.43M810.83 229.5 L815.7 229.5 L813.04 232.9 L814.37 232.9 L815.26 233.33 L815.7 233.75 L816.15 235.03 L816.15 235.88 L815.7 237.16 L814.82 238.01 L813.49 238.43 L812.16 238.43 L810.83 238.01 L810.39 237.58 L809.94 236.73M825.89 229.5 L824.56 229.93 L823.68 231.2 L823.23 233.33 L823.23 234.6 L823.68 236.73 L824.56 238.01 L825.89 238.43 L826.78 238.43 L828.11 238.01 L828.99 236.73 L829.44 234.6 L829.44 233.33 L828.99 231.2 L828.11 229.93 L826.78 229.5 L825.89 229.5M834.75 229.5 L833.42 229.93 L832.54 231.2 L832.09 233.33 L832.09 234.6 L832.54 236.73 L833.42 238.01 L834.75 238.43 L835.64 238.43 L836.97 238.01 L837.85 236.73 L838.3 234.6 L838.3 233.33 L837.85 231.2 L836.97 229.93 L835.64 229.5 L834.75 229.5" stroke="#fff" stroke-width="1.4" fill="none"/><path d="M818.69 231.9h2v2h-2zM818.69 237.01h2v2h-2z" fill="#fff"/></g>
<g role="img" aria-label="GMT(min)"><title>GMT(min)</title><path d="M124.85 231.63 L124.4 230.78 L123.52 229.93 L122.63 229.5 L120.86 229.5 L119.97 229.93 L119.09 230.78 L118.64 231.63 L118.2 232.9 L118.2 235.03 L118.64 236.3 L119.09 237.16 L119.97 238.01 L120.86 238.43 L122.63 238.43 L123.52 238.01 L124.4 237.16 L124.85 236.3 L124.85 235.03M122.63 235.03 L124.85 235.03M127.95 229.5 L127.95 238.43M127.95 229.5 L131.49 238.43M135.03 229.5 L131.49 238.43M135.03 229.5 L135.03 238.43M140.35 229.5 L140.35 238.43M137.25 229.5 L143.45 229.5M148.77 227.8 L147.88 228.65 L147 229.93 L146.11 231.63 L145.67 233.75 L145.67 235.45 L146.11 237.58 L147 239.28 L147.88 240.56 L148.77 241.41M151.87 232.48 L151.87 238.43M151.87 234.18 L153.2 232.9 L154.08 232.48 L155.41 232.48 L156.3 232.9 L156.74 234.18 L156.74 238.43M156.74 234.18 L158.07 232.9 L158.96 232.48 L160.29 232.48 L161.17 232.9 L161.61 234.18 L161.61 238.43M165.16 232.48 L165.16 238.43M168.7 232.48 L168.7 238.43M168.7 234.18 L170.03 232.9 L170.92 232.48 L172.25 232.48 L173.13 232.9 L173.58 234.18 L173.58 238.43M176.68 227.8 L177.56 228.65 L178.45 229.93 L179.33 231.63 L179.78 233.75 L179.78 235.45 L179.33 237.58 L178.45 239.28 L177.56 240.56 L176.68 241.41" stroke="#fff" stroke-width="1.4" fill="none"/><path d="M164.16 228.5h2v2h-2z" fill="#fff"/></g>
<g role="img" aria-label="09:00"><title>09:00</title><path d="M249.99 458.5 L248.66 458.93 L247.78 460.2 L247.33 462.33 L247.33 463.6 L247.78 465.73 L248.66 467.01 L249.99 467.43 L250.88 467.43 L252.21 467.01 L253.09 465.73 L253.54 463.6 L253.54 462.33 L253.09 460.2 L252.21 458.93 L250.88 458.5 L249.99 458.5M261.95 461.48 L261.51 462.75 L260.62 463.6 L259.3 464.03 L258.85 464.03 L257.52 463.6 L256.64 462.75 L256.19 461.48 L256.19 461.05 L256.64 459.78 L257.52 458.93 L258.85 458.5 L259.3 458.5 L260.62 458.93 L261.51 459.78 L261.95 461.48 L261.95 463.6 L261.51 465.73 L260.62 467.01 L259.3 467.43 L258.41 467.43 L257.08 467.01 L256.64 466.16M272.14 458.5 L270.81 458.93 L269.93 460.2 L269.48 462.33 L269.48 463.6 L269.93 465.73 L270.81 467.01 L272.14 467.43 L273.03 467.43 L274.36 467.01 L275.24 465.73 L275.69 463.6 L275.69 462.33 L275.24 460.2 L274.36 458.93 L273.03 458.5 L272.14 458.5M281 458.5 L279.67 458.93 L278.79 460.2 L278.34 462.33 L278.34 463.6 L278.79 465.73 L279.67 467.01 L281 467.43 L281.89 467.43 L283.22 467.01 L284.1 465.73 L284.55 463.6 L284.55 462.33 L284.1 460.2 L283.22 458.93 L281.89 458.5 L281 458.5" stroke="#fff" stroke-width="1.4" fill="none"/><path d="M264.94 460.9h2v2h-2zM264.94 466.01h2v2h-2z" fill="#fff"/></g>
<g role="img" aria-label="09:30"><title>09:30</title><path d="M319.4 458.5 L318.08 458.93 L317.19 460.2 L316.75 462.33 L316.75 463.6 L317.19 465.73 L318.08 467.01 L319.4 467.43 L320.29 467.43 L321.62 467.01 L322.51 465.73 L322.95 463.6 L322.95 462.33 L322.51 460.2 L321.62 458.93 L320.29 458.5 L319.4 458.5M331.37 461.48 L330.92 462.75 L330.04 463.6 L328.71 464.03 L328.26 464.03 L326.94 463.6 L326.05 462.75 L325.61 461.48 L325.61 461.05 L326.05 459.78 L326.94 458.93 L328.26 458.5 L328.71 458.5 L330.04 458.93 L330.92 459.78 L331.37 461.48 L331.37 463.6 L330.92 465.73 L330.04 467.01 L328.71 467.43 L327.82 467.43 L326.49 467.01 L326.05 466.16M339.78 458.5 L344.66 458.5 L342 461.9 L343.33 461.9 L344.21 462.33 L344.66 462.75 L345.1 464.03 L345.1 464.88 L344.66 466.16 L343.77 467.01 L342.44 467.43 L341.11 467.43 L339.78 467.01 L339.34 466.58 L338.9 465.73M350.41 458.5 L349.09 458.93 L348.2 460.2 L347.76 462.33 L347.76 463.6 L348.2 465.73 L349.09 467.01 L350.41 467.43 L351.3 467.43 L352.63 467.01 L353.52 465.73 L353.96 463.6 L353.96 462.33 L353.52 460.2 L352.63 458.93 L351.3 458.5 L350.41 458.5" stroke="#fff" stroke-width="1.4" fill="none"/><path d="M334.35 460.9h2v2h-2zM334.35 466.01h2v2h-2z" fill="#fff"/></g>
<g role="img" aria-label="10:00"><title>10:00</title><path d="M387.71 460.2 L388.6 459.78 L389.92 458.5 L389.92 467.43M396.13 458.5 L394.8 458.93 L393.91 460.2 L393.47 462.33 L393.47 463.6 L393.91 465.73 L394.8 467.01 L396.13 467.43 L397.01 467.43 L398.34 467.01 L399.23 465.73 L399.67 463.6 L399.67 462.33 L399.23 460.2 L398.34 458.93 L397.01 458.5 L396.13 458.5M409.42 458.5 L408.09 458.93 L407.2 460.2 L406.76 462.33 L406.76 463.6 L407.2 465.73 L408.09 467.01 L409.42 467.43 L410.3 467.43 L411.63 467.01 L412.52 465.73 L412.96 463.6 L412.96 462.33 L412.52 460.2 L411.63 458.93 L410.3 458.5 L409.42 458.5M418.28 458.5 L416.95 458.93 L416.06 460.2 L415.62 462.33 L415.62 463.6 L416.06 465.73 L416.95 467.01 L418.28 467.43 L419.16 467.43 L420.49 467.01 L421.38 465.73 L421.82 463.6 L421.82 462.33 L421.38 460.2 L420.49 458.93 L419.16 458.5 L418.28 458.5" stroke="#fff" stroke-width="1.4" fill="none"/><path d="M402.21 460.9h2v2h-2zM402.21 466.01h2v2h-2z" fill="#fff"/></g>
<g role="img" aria-label="10:30"><title>10:30</title><path d="M457.12 460.2 L458.01 459.78 L459.34 458.5 L459.34 467.43M465.54 458.5 L464.21 458.93 L463.32 460.2 L462.88 462.33 L462.88 463.6 L463.32 465.73 L464.21 467.01 L465.54 467.43 L466.43 467.43 L467.75 467.01 L468.64 465.73 L469.08 463.6 L469.08 462.33 L468.64 460.2 L467.75 458.93 L466.43 458.5 L465.54 458.5M477.06 458.5 L481.93 458.5 L479.27 461.9 L480.6 461.9 L481.49 462.33 L481.93 462.75 L482.37 464.03 L482.37 464.88 L481.93 466.16 L481.04 467.01 L479.71 467.43 L478.39 467.43 L477.06 467.01 L476.61 466.58 L476.17 465.73M487.69 458.5 L486.36 458.93 L485.47 460.2 L485.03 462.33 L485.03 463.6 L485.47 465.73 L486.36 467.01 L487.69 467.43 L488.57 467.43 L489.9 467.01 L490.79 465.73 L491.23 463.6 L491.23 462.33 L490.79 460.2 L489.9 458.93 L488.57 458.5 L487.69 458.5" stroke="#fff" stroke-width="1.4" fill="none"/><path d="M471.63 460.9h2v2h-2zM471.63 466.01h2v2h-2z" fill="#fff"/></g>
<g role="img" aria-label="11:00"><title>11:00</title><path d="M528.31 460.2 L529.19 459.78 L530.52 458.5 L530.52 467.43M533.62 460.2 L534.51 459.78 L535.84 458.5 L535.84 467.43M546.47 458.5 L545.14 458.93 L544.25 460.2 L543.81 462.33 L543.81 463.6 L544.25 465.73 L545.14 467.01 L546.47 467.43 L547.36 467.43 L548.68 467.01 L549.57 465.73 L550.01 463.6 L550.01 462.33 L549.57 460.2 L548.68 458.93 L547.36 458.5 L546.47 458.5M555.33 458.5 L554 458.93 L553.11 460.2 L552.67 462.33 L552.67 463.6 L553.11 465.73 L554 467.01 L555.33 467.43 L556.22 467.43 L557.54 467.01 L558.43 465.73 L558.87 463.6 L558.87 462.33 L558.43 460.2 L557.54 458.93 L556.22 458.5 L555.33 458.5" stroke="#fff" stroke-width="1.4" fill="none"/><path d="M539.27 460.9h2v2h-2zM539.27 466.01h2v2h-2z" fill="#fff"/></g>
<g role="img" aria-label="11:30"><title>11:30</title><path d="M597.72 460.2 L598.61 459.78 L599.93 458.5 L599.93 467.43M603.04 460.2 L603.92 459.78 L605.25 458.5 L605.25 467.43M614.11 458.5 L618.98 458.5 L616.33 461.9 L617.65 461.9 L618.54 462.33 L618.98 462.75 L619.43 464.03 L619.43 464.88 L618.98 466.16 L618.1 467.01 L616.77 467.43 L615.44 467.43 L614.11 467.01 L613.67 466.58 L613.22 465.73M624.74 458.5 L623.41 458.93 L622.53 460.2 L622.08 462.33 L622.08 463.6 L622.53 465.73 L623.41 467.01 L624.74 467.43 L625.63 467.43 L626.96 467.01 L627.84 465.73 L628.29 463.6 L628.29 462.33 L627.84 460.2 L626.96 458.93 L625.63 458.5 L624.74 458.5" stroke="#fff" stroke-width="1.4" fill="none"/><path d="M608.68 460.9h2v2h-2zM608.68 466.01h2v2h-2z" fill="#fff"/></g>
<g role="img" aria-label="12:00"><title>12:00</title><path d="M665.36 460.2 L666.25 459.78 L667.57 458.5 L667.57 467.43M671.56 460.63 L671.56 460.2 L672 459.35 L672.45 458.93 L673.33 458.5 L675.11 458.5 L675.99 458.93 L676.43 459.35 L676.88 460.2 L676.88 461.05 L676.43 461.9 L675.55 463.18 L671.12 467.43 L677.32 467.43M687.07 458.5 L685.74 458.93 L684.85 460.2 L684.41 462.33 L684.41 463.6 L684.85 465.73 L685.74 467.01 L687.07 467.43 L687.95 467.43 L689.28 467.01 L690.17 465.73 L690.61 463.6 L690.61 462.33 L690.17 460.2 L689.28 458.93 L687.95 458.5 L687.07 458.5M695.93 458.5 L694.6 458.93 L693.71 460.2 L693.27 462.33 L693.27 463.6 L693.71 465.73 L694.6 467.01 L695.93 467.43 L696.81 467.43 L698.14 467.01 L699.03 465.73 L699.47 463.6 L699.47 462.33 L699.03 460.2 L698.14 458.93 L696.81 458.5 L695.93 458.5" stroke="#fff" stroke-width="1.4" fill="none"/><path d="M679.86 460.9h2v2h-2zM679.86 466.01h2v2h-2z" fill="#fff"/></g>
<g role="img" aria-label="12:30"><title>12:30</title><path d="M734.77 460.2 L735.66 459.78 L736.99 458.5 L736.99 467.43M740.97 460.63 L740.97 460.2 L741.42 459.35 L741.86 458.93 L742.75 458.5 L744.52 458.5 L745.4 458.93 L745.85 459.35 L746.29 460.2 L746.29 461.05 L745.85 461.9 L744.96 463.18 L740.53 467.43 L746.73 467.43M754.71 458.5 L759.58 458.5 L756.92 461.9 L758.25 461.9 L759.14 462.33 L759.58 462.75 L760.02 464.03 L760.02 464.88 L759.58 466.16 L758.69 467.01 L757.37 467.43 L756.04 467.43 L754.71 467.01 L754.26 466.58 L753.82 465.73M765.34 458.5 L764.01 458.93 L763.12 460.2 L762.68 462.33 L762.68 463.6 L763.12 465.73 L764.01 467.01 L765.34 467.43 L766.23 467.43 L767.55 467.01 L768.44 465.73 L768.88 463.6 L768.88 462.33 L768.44 460.2 L767.55 458.93 L766.23 458.5 L765.34 458.5" stroke="#fff" stroke-width="1.4" fill="none"/><path d="M749.28 460.9h2v2h-2zM749.28 466.01h2v2h-2z" fill="#fff"/></g>
<g role="img" aria-label="13:00"><title>13:00</title><path d="M804.18 460.2 L805.07 459.78 L806.4 458.5 L806.4 467.43M810.83 458.5 L815.7 458.5 L813.04 461.9 L814.37 461.9 L815.26 462.33 L815.7 462.75 L816.15 464.03 L816.15 464.88 L815.7 466.16 L814.82 467.01 L813.49 467.43 L812.16 467.43 L810.83 467.01 L810.39 466.58 L809.94 465.73M825.89 458.5 L824.56 458.93 L823.68 460.2 L823.23 462.33 L823.23 463.6 L823.68 465.73 L824.56 467.01 L825.89 467.43 L826.78 467.43 L828.11 467.01 L828.99 465.73 L829.44 463.6 L829.44 462.33 L828.99 460.2 L828.11 458.93 L826.78 458.5 L825.89 458.5M834.75 458.5 L833.42 458.93 L832.54 460.2 L832.09 462.33 L832.09 463.6 L832.54 465.73 L833.42 467.01 L834.75 467.43 L835.64 467.43 L836.97 467.01 L837.85 465.73 L838.3 463.6 L838.3 462.33 L837.85 460.2 L836.97 458.93 L835.64 458.5 L834.75 458.5" stroke="#fff" stroke-width="1.4" fill="none"/><path d="M818.69 460.9h2v2h-2zM818.69 466.01h2v2h-2z" fill="#fff"/></g>
<g role="img" aria-label="GMT(min)"><title>GMT(min)</title><path d="M124.85 460.63 L124.4 459.78 L123.52 458.93 L122.63 458.5 L120.86 458.5 L119.97 458.93 L119.09 459.78 L118.64 460.63 L118.2 461.9 L118.2 464.03 L118.64 465.3 L119.09 466.16 L119.97 467.01 L120.86 467.43 L122.63 467.43 L123.52 467.01 L124.4 466.16 L124.85 465.3 L124.85 464.03M122.63 464.03 L124.85 464.03M127.95 458.5 L127.95 467.43M127.95 458.5 L131.49 467.43M135.03 458.5 L131.49 467.43M135.03 458.5 L135.03 467.43M140.35 458.5 L140.35 467.43M137.25 458.5 L143.45 458.5M148.77 456.8 L147.88 457.65 L147 458.93 L146.11 460.63 L145.67 462.75 L145.67 464.45 L146.11 466.58 L147 468.28 L147.88 469.56 L148.77 470.41M151.87 461.48 L151.87 467.43M151.87 463.18 L153.2 461.9 L154.08 461.48 L155.41 461.48 L156.3 461.9 L156.74 463.18 L156.74 467.43M156.74 463.18 L158.07 461.9 L158.96 461.48 L160.29 461.48 L161.17 461.9 L161.61 463.18 L161.61 467.43M165.16 461.48 L165.16 467.43M168.7 461.48 L168.7 467.43M168.7 463.18 L170.03 461.9 L170.92 461.48 L172.25 461.48 L173.13 461.9 L173.58 463.18 L173.58 467.43M176.68 456.8 L177.56 457.65 L178.45 458.93 L179.33 460.63 L179.78 462.75 L179.78 464.45 L179.33 466.58 L178.45 468.28 L177.56 469.56 L176.68 470.41" stroke="#fff" stroke-width="1.4" fill="none"/><path d="M164.16 457.5h2v2h-2z" fill="#fff"/></g>
<g role="img" aria-label="09:00"><title>09:00</title><path d="M249.99 687.5 L248.66 687.93 L247.78 689.2 L247.33 691.33 L247.33 692.6 L247.78 694.73 L248.66 696.01 L249.99 696.43 L250.88 696.43 L252.21 696.01 L253.09 694.73 L253.54 692.6 L253.54 691.33 L253.09 689.2 L252.21 687.93 L250.88 687.5 L249.99 687.5M261.95 690.48 L261.51 691.75 L260.62 692.6 L259.3 693.03 L258.85 693.03 L257.52 692.6 L256.64 691.75 L256.19 690.48 L256.19 690.05 L256.64 688.78 L257.52 687.93 L258.85 687.5 L259.3 687.5 L260.62 687.93 L261.51 688.78 L261.95 690.48 L261.95 692.6 L261.51 694.73 L260.62 696.01 L259.3 696.43 L258.41 696.43 L257.08 696.01 L256.64 695.16M272.14 687.5 L270.81 687.93 L269.93 689.2 L269.48 691.33 L269.48 692.6 L269.93 694.73 L270.81 696.01 L272.14 696.43 L273.03 696.43 L274.36 696.01 L275.24 694.73 L275.69 692.6 L275.69 691.33 L275.24 689.2 L274.36 687.93 L273.03 687.5 L272.14 687.5M281 687.5 L279.67 687.93 L278.79 689.2 L278.34 691.33 L278.34 692.6 L278.79 694.73 L279.67 696.01 L281 696.43 L281.89 696.43 L283.22 696.01 L284.1 694.73 L284.55 692.6 L284.55 691.33 L284.1 689.2 L283.22 687.93 L281.89 687.5 L281 687.5" stroke="#fff" stroke-width="1.4" fill="none"/><path d="M264.94 689.9h2v2h-2zM264.94 695.01h2v2h-2z" fill="#fff"/></g>
<g role="img" aria-label="09:30"><title>09:30</title><path d="M319.4 687.5 L318.08 687.93 L317.19 689.2 L316.75 691.33 L316.75 692.6 L317.19 694.73 L318.08 696.01 L319.4 696.43 L320.29 696.43 L321.62 696.01 L322.51 694.73 L322.95 692.6 L322.95 691.33 L322.51 689.2 L321.62 687.93 L320.29 687.5 L319.4 687.5M331.37 690.48 L330.92 691.75 L330.04 692.6 L328.71 693.03 L328.26 693.03 L326.94 692.6 L326.05 691.75 L325.61 690.48 L325.61 690.05 L326.05 688.78 L326.94 687.93 L328.26 687.5 L328.71 687.5 L330.04 687.93 L330.92 688.78 L331.37 690.48 L331.37 692.6 L330.92 694.73 L330.04 696.01 L328.71 696.43 L327.82 696.43 L326.49 696.01 L326.05 695.16M339.78 687.5 L344.66 687.5 L342 690.9 L343.33 690.9 L344.21 691.33 L344.66 691.75 L345.1 693.03 L345.1 693.88 L344.66 695.16 L343.77 696.01 L342.44 696.43 L341.11 696.43 L339.78 696.01 L339.34 695.58 L338.9 694.73M350.41 687.5 L349.09 687.93 L348.2 689.2 L347.76 691.33 L347.76 692.6 L348.2 694.73 L349.09 696.01 L350.41 696.43 L351.3 696.43 L352.63 696.01 L353.52 694.73 L353.96 692.6 L353.96 691.33 L353.52 689.2 L352.63 687.93 L351.3 687.5 L350.41 687.5" stroke="#fff" stroke-width="1.4" fill="none"/><path d="M334.35 689.9h2v2h-2zM334.35 695.01h2v2h-2z" fill="#fff"/></g>
<g role="img" aria-label="10:00"><title>10:00</title><path d="M387.71 689.2 L388.6 688.78 L389.92 687.5 L389.92 696.43M396.13 687.5 L394.8 687.93 L393.91 689.2 L393.47 691.33 L393.47 692.6 L393.91 694.73 L394.8 696.01 L396.13 696.43 L397.01 696.43 L398.34 696.01 L399.23 694.73 L399.67 692.6 L399.67 691.33 L399.23 689.2 L398.34 687.93 L397.01 687.5 L396.13 687.5M409.42 687.5 L408.09 687.93 L407.2 689.2 L406.76 691.33 L406.76 692.6 L407.2 694.73 L408.09 696.01 L409.42 696.43 L410.3 696.43 L411.63 696.01 L412.52 694.73 L412.96 692.6 L412.96 691.33 L412.52 689.2 L411.63 687.93 L410.3 687.5 L409.42 687.5M418.28 687.5 L416.95 687.93 L416.06 689.2 L415.62 691.33 L415.62 692.6 L416.06 694.73 L416.95 696.01 L418.28 696.43 L419.16 696.43 L420.49 696.01 L421.38 694.73 L421.82 692.6 L421.82 691.33 L421.38 689.2 L420.49 687.93 L419.16 687.5 L418.28 687.5" stroke="#fff" stroke-width="1.4" fill="none"/><path d="M402.21 689.9h2v2h-2zM402.21 695.01h2v2h-2z" fill="#fff"/></g>
<g role="img" aria-label="10:30"><title>10:30</title><path d="M457.12 689.2 L458.01 688.78 L459.34 687.5 L459.34 696.43M465.54 687.5 L464.21 687.93 L463.32 689.2 L462.88 691.33 L462.88 692.6 L463.32 694.73 L464.21 696.01 L465.54 696.43 L466.43 696.43 L467.75 696.01 L468.64 694.73 L469.08 692.6 L469.08 691.33 L468.64 689.2 L467.75 687.93 L466.43 687.5 L465.54 687.5M477.06 687.5 L481.93 687.5 L479.27 690.9 L480.6 690.9 L481.49 691.33 L481.93 691.75 L482.37 693.03 L482.37 693.88 L481.93 695.16 L481.04 696.01 L479.71 696.43 L478.39 696.43 L477.06 696.01 L476.61 695.58 L476.17 694.73M487.69 687.5 L486.36 687.93 L485.47 689.2 L485.03 691.33 L485.03 692.6 L485.47 694.73 L486.36 696.01 L487.69 696.43 L488.57 696.43 L489.9 696.01 L490.79 694.73 L491.23 692.6 L491.23 691.33 L490.79 689.2 L489.9 687.93 L488.57 687.5 L487.69 687.5" stroke="#fff" stroke-width="1.4" fill="none"/><path d="M471.63 689.9h2v2h-2zM471.63 695.01h2v2h-2z" fill="#fff"/></g>
<g role="img" aria-label="11:00"><title>11:00</title><path d="M528.31 689.2 L529.19 688.78 L530.52 687.5 L530.52 696.43M533.62 689.2 L534.51 688.78 L535.84 687.5 L535.84 696.43M546.47 687.5 L545.14 687.93 L544.25 689.2 L543.81 691.33 L543.81 692.6 L544.25 694.73 L545.14 696.01 L546.47 696.43 L547.36 696.43 L548.68 696.01 L549.57 694.73 L550.01 692.6 L550.01 691.33 L549.57 689.2 L548.68 687.93 L547.36 687.5 L546.47 687.5M555.33 687.5 L554 687.93 L553.11 689.2 L552.67 691.33 L552.67 692.6 L553.11 694.73 L554 696.01 L555.33 696.43 L556.22 696.43 L557.54 696.01 L558.43 694.73 L558.87 692.6 L558.87 691.33 L558.43 689.2 L557.54 687.93 L556.22 687.5 L555.33 687.5" stroke="#fff" stroke-width="1.4" fill="none"/><path d="M539.27 689.9h2v2h-2zM539.27 695.01h2v2h-2z" fill="#fff"/></g>
<g role="img" aria-label="11:30"><title>11:30</title><path d="M597.72 689.2 L598.61 688.78 L599.93 687.5 L599.93 696.43M603.04 689.2 L603.92 688.78 L605.25 687.5 L605.25 696.43M614.11 687.5 L618.98 687.5 L616.33 690.9 L617.65 690.9 L618.54 691.33 L618.98 691.75 L619.43 693.03 L619.43 693.88 L618.98 695.16 L618.1 696.01 L616.77 696.43 L615.44 696.43 L614.11 696.01 L613.67 695.58 L613.22 694.73M624.74 687.5 L623.41 687.93 L622.53 689.2 L622.08 691.33 L622.08 692.6 L622.53 694.73 L623.41 696.01 L624.74 696.43 L625.63 696.43 L626.96 696.01 L627.84 694.73 L628.29 692.6 L628.29 691.33 L627.84 689.2 L626.96 687.93 L625.63 687.5 L624.74 687.5" stroke="#fff" stroke-width="1.4" fill="none"/><path d="M608.68 689.9h2v2h-2zM608.68 695.01h2v2h-2z" fill="#fff"/></g>
<g role="img" aria-label="12:00"><title>12:00</title><path d="M665.36 689.2 L666.25 688.78 L667.57 687.5 L667.57 696.43M671.56 689.63 L671.56 689.2 L672 688.35 L672.45 687.93 L673.33 687.5 L675.11 687.5 L675.99 687.93 L676.43 688.35 L676.88 689.2 L676.88 690.05 L676.43 690.9 L675.55 692.18 L671.12 696.43 L677.32 696.43M687.07 687.5 L685.74 687.93 L684.85 689.2 L684.41 691.33 L684.41 692.6 L684.85 694.73 L685.74 696.01 L687.07 696.43 L687.95 696.43 L689.28 696.01 L690.17 694.73 L690.61 692.6 L690.61 691.33 L690.17 689.2 L689.28 687.93 L687.95 687.5 L687.07 687.5M695.93 687.5 L694.6 687.93 L693.71 689.2 L693.27 691.33 L693.27 692.6 L693.71 694.73 L694.6 696.01 L695.93 696.43 L696.81 696.43 L698.14 696.01 L699.03 694.73 L699.47 692.6 L699.47 691.33 L699.03 689.2 L698.14 687.93 L696.81 687.5 L695.93 687.5" stroke="#fff" stroke-width="1.4" fill="none"/><path d="M679.86 689.9h2v2h-2zM679.86 695.01h2v2h-2z" fill="#fff"/></g>
<g role="img" aria-label="12:30"><title>12:30</title><path d="M734.77 689.2 L735.66 688.78 L736.99 687.5 L736.99 696.43M740.97 689.63 L740.97 689.2 L741.42 688.35 L741.86 687.93 L742.75 687.5 L744.52 687.5 L745.4 687.93 L745.85 688.35 L746.29 689.2 L746.29 690.05 L745.85 690.9 L744.96 692.18 L740.53 696.43 L746.73 696.43M754.71 687.5 L759.58 687.5 L756.92 690.9 L758.25 690.9 L759.14 691.33 L759.58 691.75 L760.02 693.03 L760.02 693.88 L759.58 695.16 L758.69 696.01 L757.37 696.43 L756.04 696.43 L754.71 696.01 L754.26 695.58 L753.82 694.73M765.34 687.5 L764.01 687.93 L763.12 689.2 L762.68 691.33 L762.68 692.6 L763.12 694.73 L764.01 696.01 L765.34 696.43 L766.23 696.43 L767.55 696.01 L768.44 694.73 L768.88 692.6 L768.88 691.33 L768.44 689.2 L767.55 687.93 L766.23 687.5 L765.34 687.5" stroke="#fff" stroke-width="1.4" fill="none"/><path d="M749.28 689.9h2v2h-2zM749.28 695.01h2v2h-2z" fill="#fff"/></g>
<g role="img" aria-label="13:00"><title>13:00</title><path d="M804.18 689.2 L805.07 688.78 L806.4 687.5 L806.4 696.43M810.83 687.5 L815.7 687.5 L813.04 690.9 L814.37 690.9 L815.26 691.33 L815.7 691.75 L816.15 693.03 L816.15 693.88 L815.7 695.16 L814.82 696.01 L813.49 696.43 L812.16 696.43 L810.83 696.01 L810.39 695.58 L809.94 694.73M825.89 687.5 L824.56 687.93 L823.68 689.2 L823.23 691.33 L823.23 692.6 L823.68 694.73 L824.56 696.01 L825.89 696.43 L826.78 696.43 L828.11 696.01 L828.99 694.73 L829.44 692.6 L829.44 691.33 L828.99 689.2 L828.11 687.93 L826.78 687.5 L825.89 687.5M834.75 687.5 L833.42 687.93 L832.54 689.2 L832.09 691.33 L832.09 692.6 L832.54 694.73 L833.42 696.01 L834.75 696.43 L835.64 696.43 L836.97 696.01 L837.85 694.73 L838.3 692.6 L838.3 691.33 L837.85 689.2 L836.97 687.93 L835.64 687.5 L834.75 687.5" stroke="#fff" stroke-width="1.4" fill="none"/><path d="M818.69 689.9h2v2h-2zM818.69 695.01h2v2h-2z" fill="#fff"/></g>
<g role="img" aria-label="GMT(min)"><title>GMT(min)</title><path d="M124.85 689.63 L124.4 688.78 L123.52 687.93 L122.63 687.5 L120.86 687.5 L119.97 687.93 L119.09 688.78 L118.64 689.63 L118.2 690.9 L118.2 693.03 L118.64 694.3 L119.09 695.16 L119.97 696.01 L120.86 696.43 L122.63 696.43 L123.52 696.01 L124.4 695.16 L124.85 694.3 L124.85 693.03M122.63 693.03 L124.85 693.03M127.95 687.5 L127.95 696.43M127.95 687.5 L131.49 696.43M135.03 687.5 L131.49 696.43M135.03 687.5 L135.03 696.43M140.35 687.5 L140.35 696.43M137.25 687.5 L143.45 687.5M148.77 685.8 L147.88 686.65 L147 687.93 L146.11 689.63 L145.67 691.75 L145.67 693.45 L146.11 695.58 L147 697.28 L147.88 698.56 L148.77 699.41M151.87 690.48 L151.87 696.43M151.87 692.18 L153.2 690.9 L154.08 690.48 L155.41 690.48 L156.3 690.9 L156.74 692.18 L156.74 696.43M156.74 692.18 L158.07 690.9 L158.96 690.48 L160.29 690.48 L161.17 690.9 L161.61 692.18 L161.61 696.43M165.16 690.48 L165.16 696.43M168.7 690.48 L168.7 696.43M168.7 692.18 L170.03 690.9 L170.92 690.48 L172.25 690.48 L173.13 690.9 L173.58 692.18 L173.58 696.43M176.68 685.8 L177.56 686.65 L178.45 687.93 L179.33 689.63 L179.78 691.75 L179.78 693.45 L179.33 695.58 L178.45 697.28 L177.56 698.56 L176.68 699.41" stroke="#fff" stroke-width="1.4" fill="none"/><path d="M164.16 686.5h2v2h-2z" fill="#fff"/></g>
<g role="img" aria-label="2"><title>2</title><path d="M190.39 74.9 L190.39 74.64 L190.66 74.12 L190.93 73.86 L191.47 73.6 L192.55 73.6 L193.09 73.86 L193.36 74.12 L193.63 74.64 L193.63 75.16 L193.36 75.67 L192.82 76.45 L190.12 79.04 L193.9 79.04" stroke="#fff" stroke-width="1.4" fill="none"/></g>
<g role="img" aria-label="10"><title>10</title><path d="M176.56 78.1 L177.44 77.68 L178.77 76.4 L178.77 85.33M184.98 76.4 L183.65 76.83 L182.76 78.1 L182.32 80.23 L182.32 81.5 L182.76 83.63 L183.65 84.91 L184.98 85.33 L185.86 85.33 L187.19 84.91 L188.08 83.63 L188.52 81.5 L188.52 80.23 L188.08 78.1 L187.19 76.83 L185.86 76.4 L184.98 76.4" stroke="#fff" stroke-width="1.4" fill="none"/></g>
<g role="img" aria-label="1"><title>1</title><path d="M192.55 144.74 L193.09 144.48 L193.9 143.7 L193.9 149.14" stroke="#fff" stroke-width="1.4" fill="none"/></g>
<g role="img" aria-label="10"><title>10</title><path d="M178.99 148.2 L179.88 147.78 L181.2 146.5 L181.2 155.43M187.41 146.5 L186.08 146.93 L185.19 148.2 L184.75 150.33 L184.75 151.6 L185.19 153.73 L186.08 155.01 L187.41 155.43 L188.29 155.43 L189.62 155.01 L190.51 153.73 L190.95 151.6 L190.95 150.33 L190.51 148.2 L189.62 146.93 L188.29 146.5 L187.41 146.5" stroke="#fff" stroke-width="1.4" fill="none"/></g>
<g role="img" aria-label="0"><title>0</title><path d="M191.74 212.7 L190.93 212.96 L190.39 213.74 L190.12 215.03 L190.12 215.81 L190.39 217.11 L190.93 217.88 L191.74 218.14 L192.28 218.14 L193.09 217.88 L193.63 217.11 L193.9 215.81 L193.9 215.03 L193.63 213.74 L193.09 212.96 L192.28 212.7 L191.74 212.7" stroke="#fff" stroke-width="1.4" fill="none"/></g>
<g role="img" aria-label="10"><title>10</title><path d="M176.56 217.2 L177.44 216.78 L178.77 215.5 L178.77 224.43M184.98 215.5 L183.65 215.93 L182.76 217.2 L182.32 219.33 L182.32 220.6 L182.76 222.73 L183.65 224.01 L184.98 224.43 L185.86 224.43 L187.19 224.01 L188.08 222.73 L188.52 220.6 L188.52 219.33 L188.08 217.2 L187.19 215.93 L185.86 215.5 L184.98 215.5" stroke="#fff" stroke-width="1.4" fill="none"/></g>
<g role="img" aria-label="ELS-11 Pitch Angle"><title>ELS-11 Pitch Angle</title><path d="M75.36 259.6 L75.36 268.53M75.36 259.6 L81.12 259.6M75.36 263.85 L78.9 263.85M75.36 268.53 L81.12 268.53M83.78 259.6 L83.78 268.53M83.78 268.53 L89.09 268.53M97.07 260.88 L96.18 260.03 L94.85 259.6 L93.08 259.6 L91.75 260.03 L90.86 260.88 L90.86 261.73 L91.31 262.58 L91.75 263 L92.64 263.43 L95.29 264.28 L96.18 264.7 L96.62 265.13 L97.07 265.98 L97.07 267.26 L96.18 268.11 L94.85 268.53 L93.08 268.53 L91.75 268.11 L90.86 267.26M100.61 264.7 L105.93 264.7M109.03 261.3 L109.91 260.88 L111.24 259.6 L111.24 268.53M114.34 261.3 L115.23 260.88 L116.56 259.6 L116.56 268.53M127.63 259.6 L127.63 268.53M127.63 259.6 L131.62 259.6 L132.95 260.03 L133.39 260.45 L133.83 261.3 L133.83 262.58 L133.39 263.43 L132.95 263.85 L131.62 264.28 L127.63 264.28M136.94 262.58 L136.94 268.53M140.92 259.6 L140.92 266.83 L141.37 268.11 L142.25 268.53 L143.14 268.53M139.59 262.58 L142.69 262.58M150.67 263.85 L149.78 263 L148.9 262.58 L147.57 262.58 L146.68 263 L145.8 263.85 L145.35 265.13 L145.35 265.98 L145.8 267.26 L146.68 268.11 L147.57 268.53 L148.9 268.53 L149.78 268.11 L150.67 267.26M153.77 259.6 L153.77 268.53M153.77 264.28 L155.1 263 L155.98 262.58 L157.31 262.58 L158.2 263 L158.64 264.28 L158.64 268.53M171.49 259.6 L167.95 268.53M171.49 259.6 L175.03 268.53M169.27 265.55 L173.7 265.55M177.25 262.58 L177.25 268.53M177.25 264.28 L178.58 263 L179.46 262.58 L180.79 262.58 L181.68 263 L182.12 264.28 L182.12 268.53M190.54 262.58 L190.54 269.38 L190.1 270.66 L189.65 271.08 L188.77 271.51 L187.44 271.51 L186.55 271.08M190.54 263.85 L189.65 263 L188.77 262.58 L187.44 262.58 L186.55 263 L185.67 263.85 L185.22 265.13 L185.22 265.98 L185.67 267.26 L186.55 268.11 L187.44 268.53 L188.77 268.53 L189.65 268.11 L190.54 267.26M194.08 259.6 L194.08 268.53M197.18 265.13 L202.5 265.13 L202.5 264.28 L202.06 263.43 L201.61 263 L200.73 262.58 L199.4 262.58 L198.51 263 L197.63 263.85 L197.18 265.13 L197.18 265.98 L197.63 267.26 L198.51 268.11 L199.4 268.53 L200.73 268.53 L201.61 268.11 L202.5 267.26" stroke="#fff" stroke-width="1.4" fill="none"/><path d="M135.94 258.6h2v2h-2z" fill="#fff"/></g>
<g role="img" aria-label="ELS-10 Pitch Angle"><title>ELS-10 Pitch Angle</title><path d="M71.82 277.22 L71.82 286.15M71.82 277.22 L77.57 277.22M71.82 281.47 L75.36 281.47M71.82 286.15 L77.57 286.15M80.23 277.22 L80.23 286.15M80.23 286.15 L85.55 286.15M93.52 278.5 L92.64 277.65 L91.31 277.22 L89.54 277.22 L88.21 277.65 L87.32 278.5 L87.32 279.35 L87.76 280.2 L88.21 280.62 L89.09 281.05 L91.75 281.9 L92.64 282.32 L93.08 282.75 L93.52 283.6 L93.52 284.88 L92.64 285.73 L91.31 286.15 L89.54 286.15 L88.21 285.73 L87.32 284.88M97.07 282.32 L102.38 282.32M105.48 278.92 L106.37 278.5 L107.7 277.22 L107.7 286.15M113.9 277.22 L112.57 277.65 L111.69 278.92 L111.24 281.05 L111.24 282.32 L111.69 284.45 L112.57 285.73 L113.9 286.15 L114.79 286.15 L116.12 285.73 L117 284.45 L117.44 282.32 L117.44 281.05 L117 278.92 L116.12 277.65 L114.79 277.22 L113.9 277.22M127.63 277.22 L127.63 286.15M127.63 277.22 L131.62 277.22 L132.95 277.65 L133.39 278.07 L133.84 278.92 L133.84 280.2 L133.39 281.05 L132.95 281.47 L131.62 281.9 L127.63 281.9M136.94 280.2 L136.94 286.15M140.92 277.22 L140.92 284.45 L141.37 285.73 L142.25 286.15 L143.14 286.15M139.59 280.2 L142.69 280.2M150.67 281.47 L149.78 280.62 L148.9 280.2 L147.57 280.2 L146.68 280.62 L145.8 281.47 L145.35 282.75 L145.35 283.6 L145.8 284.88 L146.68 285.73 L147.57 286.15 L148.9 286.15 L149.78 285.73 L150.67 284.88M153.77 277.22 L153.77 286.15M153.77 281.9 L155.1 280.62 L155.99 280.2 L157.31 280.2 L158.2 280.62 L158.64 281.9 L158.64 286.15M171.49 277.22 L167.95 286.15M171.49 277.22 L175.03 286.15M169.28 283.17 L173.71 283.17M177.25 280.2 L177.25 286.15M177.25 281.9 L178.58 280.62 L179.46 280.2 L180.79 280.2 L181.68 280.62 L182.12 281.9 L182.12 286.15M190.54 280.2 L190.54 287 L190.1 288.28 L189.65 288.7 L188.77 289.13 L187.44 289.13 L186.55 288.7M190.54 281.47 L189.65 280.62 L188.77 280.2 L187.44 280.2 L186.55 280.62 L185.67 281.47 L185.22 282.75 L185.22 283.6 L185.67 284.88 L186.55 285.73 L187.44 286.15 L188.77 286.15 L189.65 285.73 L190.54 284.88M194.08 277.22 L194.08 286.15M197.18 282.75 L202.5 282.75 L202.5 281.9 L202.06 281.05 L201.61 280.62 L200.73 280.2 L199.4 280.2 L198.51 280.62 L197.63 281.47 L197.18 282.75 L197.18 283.6 L197.63 284.88 L198.51 285.73 L199.4 286.15 L200.73 286.15 L201.61 285.73 L202.5 284.88" stroke="#fff" stroke-width="1.4" fill="none"/><path d="M135.94 276.22h2v2h-2z" fill="#fff"/></g>
<g role="img" aria-label="ELS-09 Pitch Angle"><title>ELS-09 Pitch Angle</title><path d="M68.27 294.84 L68.27 303.77M68.27 294.84 L74.03 294.84M68.27 299.09 L71.81 299.09M68.27 303.77 L74.03 303.77M76.69 294.84 L76.69 303.77M76.69 303.77 L82 303.77M89.98 296.12 L89.09 295.27 L87.76 294.84 L85.99 294.84 L84.66 295.27 L83.78 296.12 L83.78 296.97 L84.22 297.82 L84.66 298.24 L85.55 298.67 L88.21 299.52 L89.09 299.94 L89.53 300.37 L89.98 301.22 L89.98 302.5 L89.09 303.35 L87.76 303.77 L85.99 303.77 L84.66 303.35 L83.78 302.5M93.52 299.94 L98.84 299.94M105.04 294.84 L103.71 295.27 L102.82 296.54 L102.38 298.67 L102.38 299.94 L102.82 302.07 L103.71 303.35 L105.04 303.77 L105.93 303.77 L107.25 303.35 L108.14 302.07 L108.58 299.94 L108.58 298.67 L108.14 296.54 L107.25 295.27 L105.93 294.84 L105.04 294.84M117 297.82 L116.56 299.09 L115.67 299.94 L114.34 300.37 L113.9 300.37 L112.57 299.94 L111.69 299.09 L111.24 297.82 L111.24 297.39 L111.69 296.12 L112.57 295.27 L113.9 294.84 L114.34 294.84 L115.67 295.27 L116.56 296.12 L117 297.82 L117 299.94 L116.56 302.07 L115.67 303.35 L114.34 303.77 L113.46 303.77 L112.13 303.35 L111.69 302.5M127.63 294.84 L127.63 303.77M127.63 294.84 L131.62 294.84 L132.95 295.27 L133.39 295.69 L133.83 296.54 L133.83 297.82 L133.39 298.67 L132.95 299.09 L131.62 299.52 L127.63 299.52M136.94 297.82 L136.94 303.77M140.92 294.84 L140.92 302.07 L141.37 303.35 L142.25 303.77 L143.14 303.77M139.59 297.82 L142.69 297.82M150.67 299.09 L149.78 298.24 L148.9 297.82 L147.57 297.82 L146.68 298.24 L145.8 299.09 L145.35 300.37 L145.35 301.22 L145.8 302.5 L146.68 303.35 L147.57 303.77 L148.9 303.77 L149.78 303.35 L150.67 302.5M153.77 294.84 L153.77 303.77M153.77 299.52 L155.1 298.24 L155.99 297.82 L157.31 297.82 L158.2 298.24 L158.64 299.52 L158.64 303.77M171.49 294.84 L167.95 303.77M171.49 294.84 L175.03 303.77M169.27 300.79 L173.7 300.79M177.25 297.82 L177.25 303.77M177.25 299.52 L178.58 298.24 L179.46 297.82 L180.79 297.82 L181.68 298.24 L182.12 299.52 L182.12 303.77M190.54 297.82 L190.54 304.62 L190.1 305.9 L189.65 306.32 L188.77 306.75 L187.44 306.75 L186.55 306.32M190.54 299.09 L189.65 298.24 L188.77 297.82 L187.44 297.82 L186.55 298.24 L185.67 299.09 L185.22 300.37 L185.22 301.22 L185.67 302.5 L186.55 303.35 L187.44 303.77 L188.77 303.77 L189.65 303.35 L190.54 302.5M194.08 294.84 L194.08 303.77M197.18 300.37 L202.5 300.37 L202.5 299.52 L202.06 298.67 L201.61 298.24 L200.73 297.82 L199.4 297.82 L198.51 298.24 L197.63 299.09 L197.18 300.37 L197.18 301.22 L197.63 302.5 L198.51 303.35 L199.4 303.77 L200.73 303.77 L201.61 303.35 L202.5 302.5" stroke="#fff" stroke-width="1.4" fill="none"/><path d="M135.94 293.84h2v2h-2z" fill="#fff"/></g>
<g role="img" aria-label="ELS-08 Pitch Angle"><title>ELS-08 Pitch Angle</title><path d="M68.27 312.46 L68.27 321.39M68.27 312.46 L74.03 312.46M68.27 316.71 L71.81 316.71M68.27 321.39 L74.03 321.39M76.69 312.46 L76.69 321.39M76.69 321.39 L82 321.39M89.98 313.74 L89.09 312.89 L87.76 312.46 L85.99 312.46 L84.66 312.89 L83.78 313.74 L83.78 314.59 L84.22 315.44 L84.66 315.86 L85.55 316.29 L88.21 317.14 L89.09 317.56 L89.53 317.99 L89.98 318.84 L89.98 320.12 L89.09 320.97 L87.76 321.39 L85.99 321.39 L84.66 320.97 L83.78 320.12M93.52 317.56 L98.84 317.56M105.04 312.46 L103.71 312.89 L102.82 314.16 L102.38 316.29 L102.38 317.56 L102.82 319.69 L103.71 320.97 L105.04 321.39 L105.93 321.39 L107.25 320.97 L108.14 319.69 L108.58 317.56 L108.58 316.29 L108.14 314.16 L107.25 312.89 L105.93 312.46 L105.04 312.46M113.46 312.46 L112.13 312.89 L111.69 313.74 L111.69 314.59 L112.13 315.44 L113.01 315.86 L114.79 316.29 L116.11 316.71 L117 317.56 L117.44 318.41 L117.44 319.69 L117 320.54 L116.56 320.97 L115.23 321.39 L113.46 321.39 L112.13 320.97 L111.69 320.54 L111.24 319.69 L111.24 318.41 L111.69 317.56 L112.57 316.71 L113.9 316.29 L115.67 315.86 L116.56 315.44 L117 314.59 L117 313.74 L116.56 312.89 L115.23 312.46 L113.46 312.46M127.63 312.46 L127.63 321.39M127.63 312.46 L131.62 312.46 L132.95 312.89 L133.39 313.31 L133.83 314.16 L133.83 315.44 L133.39 316.29 L132.95 316.71 L131.62 317.14 L127.63 317.14M136.94 315.44 L136.94 321.39M140.92 312.46 L140.92 319.69 L141.37 320.97 L142.25 321.39 L143.14 321.39M139.59 315.44 L142.69 315.44M150.67 316.71 L149.78 315.86 L148.9 315.44 L147.57 315.44 L146.68 315.86 L145.8 316.71 L145.35 317.99 L145.35 318.84 L145.8 320.12 L146.68 320.97 L147.57 321.39 L148.9 321.39 L149.78 320.97 L150.67 320.12M153.77 312.46 L153.77 321.39M153.77 317.14 L155.1 315.86 L155.99 315.44 L157.31 315.44 L158.2 315.86 L158.64 317.14 L158.64 321.39M171.49 312.46 L167.95 321.39M171.49 312.46 L175.03 321.39M169.27 318.41 L173.7 318.41M177.25 315.44 L177.25 321.39M177.25 317.14 L178.58 315.86 L179.46 315.44 L180.79 315.44 L181.68 315.86 L182.12 317.14 L182.12 321.39M190.54 315.44 L190.54 322.24 L190.1 323.52 L189.65 323.94 L188.77 324.37 L187.44 324.37 L186.55 323.94M190.54 316.71 L189.65 315.86 L188.77 315.44 L187.44 315.44 L186.55 315.86 L185.67 316.71 L185.22 317.99 L185.22 318.84 L185.67 320.12 L186.55 320.97 L187.44 321.39 L188.77 321.39 L189.65 320.97 L190.54 320.12M194.08 312.46 L194.08 321.39M197.18 317.99 L202.5 317.99 L202.5 317.14 L202.06 316.29 L201.61 315.86 L200.73 315.44 L199.4 315.44 L198.51 315.86 L197.63 316.71 L197.18 317.99 L197.18 318.84 L197.63 320.12 L198.51 320.97 L199.4 321.39 L200.73 321.39 L201.61 320.97 L202.5 320.12" stroke="#fff" stroke-width="1.4" fill="none"/><path d="M135.94 311.46h2v2h-2z" fill="#fff"/></g>
<g role="img" aria-label="ELS-07 Pitch Angle"><title>ELS-07 Pitch Angle</title><path d="M68.27 330.08 L68.27 339.01M68.27 330.08 L74.03 330.08M68.27 334.33 L71.81 334.33M68.27 339.01 L74.03 339.01M76.69 330.08 L76.69 339.01M76.69 339.01 L82 339.01M89.98 331.36 L89.09 330.51 L87.76 330.08 L85.99 330.08 L84.66 330.51 L83.78 331.36 L83.78 332.21 L84.22 333.06 L84.66 333.48 L85.55 333.91 L88.21 334.76 L89.09 335.18 L89.53 335.61 L89.98 336.46 L89.98 337.74 L89.09 338.59 L87.76 339.01 L85.99 339.01 L84.66 338.59 L83.78 337.74M93.52 335.18 L98.84 335.18M105.04 330.08 L103.71 330.51 L102.82 331.78 L102.38 333.91 L102.38 335.18 L102.82 337.31 L103.71 338.59 L105.04 339.01 L105.93 339.01 L107.25 338.59 L108.14 337.31 L108.58 335.18 L108.58 333.91 L108.14 331.78 L107.25 330.51 L105.93 330.08 L105.04 330.08M117.44 330.08 L113.01 339.01M111.24 330.08 L117.44 330.08M127.63 330.08 L127.63 339.01M127.63 330.08 L131.62 330.08 L132.95 330.51 L133.39 330.93 L133.83 331.78 L133.83 333.06 L133.39 333.91 L132.95 334.33 L131.62 334.76 L127.63 334.76M136.94 333.06 L136.94 339.01M140.92 330.08 L140.92 337.31 L141.37 338.59 L142.25 339.01 L143.14 339.01M139.59 333.06 L142.69 333.06M150.67 334.33 L149.78 333.48 L148.9 333.06 L147.57 333.06 L146.68 333.48 L145.8 334.33 L145.35 335.61 L145.35 336.46 L145.8 337.74 L146.68 338.59 L147.57 339.01 L148.9 339.01 L149.78 338.59 L150.67 337.74M153.77 330.08 L153.77 339.01M153.77 334.76 L155.1 333.48 L155.99 333.06 L157.31 333.06 L158.2 333.48 L158.64 334.76 L158.64 339.01M171.49 330.08 L167.95 339.01M171.49 330.08 L175.03 339.01M169.27 336.03 L173.7 336.03M177.25 333.06 L177.25 339.01M177.25 334.76 L178.58 333.48 L179.46 333.06 L180.79 333.06 L181.68 333.48 L182.12 334.76 L182.12 339.01M190.54 333.06 L190.54 339.86 L190.1 341.14 L189.65 341.56 L188.77 341.99 L187.44 341.99 L186.55 341.56M190.54 334.33 L189.65 333.48 L188.77 333.06 L187.44 333.06 L186.55 333.48 L185.67 334.33 L185.22 335.61 L185.22 336.46 L185.67 337.74 L186.55 338.59 L187.44 339.01 L188.77 339.01 L189.65 338.59 L190.54 337.74M194.08 330.08 L194.08 339.01M197.18 335.61 L202.5 335.61 L202.5 334.76 L202.06 333.91 L201.61 333.48 L200.73 333.06 L199.4 333.06 L198.51 333.48 L197.63 334.33 L197.18 335.61 L197.18 336.46 L197.63 337.74 L198.51 338.59 L199.4 339.01 L200.73 339.01 L201.61 338.59 L202.5 337.74" stroke="#fff" stroke-width="1.4" fill="none"/><path d="M135.94 329.08h2v2h-2z" fill="#fff"/></g>
<g role="img" aria-label="ELS-06 Pitch Angle"><title>ELS-06 Pitch Angle</title><path d="M68.27 347.7 L68.27 356.63M68.27 347.7 L74.03 347.7M68.27 351.95 L71.81 351.95M68.27 356.63 L74.03 356.63M76.69 347.7 L76.69 356.63M76.69 356.63 L82 356.63M89.98 348.98 L89.09 348.13 L87.76 347.7 L85.99 347.7 L84.66 348.13 L83.78 348.98 L83.78 349.83 L84.22 350.68 L84.66 351.1 L85.55 351.53 L88.21 352.38 L89.09 352.8 L89.53 353.23 L89.98 354.08 L89.98 355.36 L89.09 356.21 L87.76 356.63 L85.99 356.63 L84.66 356.21 L83.78 355.36M93.52 352.8 L98.84 352.8M105.04 347.7 L103.71 348.13 L102.82 349.4 L102.38 351.53 L102.38 352.8 L102.82 354.93 L103.71 356.21 L105.04 356.63 L105.93 356.63 L107.25 356.21 L108.14 354.93 L108.58 352.8 L108.58 351.53 L108.14 349.4 L107.25 348.13 L105.93 347.7 L105.04 347.7M117 348.98 L116.56 348.13 L115.23 347.7 L114.34 347.7 L113.01 348.13 L112.13 349.4 L111.69 351.53 L111.69 353.65 L112.13 355.36 L113.01 356.21 L114.34 356.63 L114.79 356.63 L116.11 356.21 L117 355.36 L117.44 354.08 L117.44 353.65 L117 352.38 L116.11 351.53 L114.79 351.1 L114.34 351.1 L113.01 351.53 L112.13 352.38 L111.69 353.65M127.63 347.7 L127.63 356.63M127.63 347.7 L131.62 347.7 L132.95 348.13 L133.39 348.55 L133.83 349.4 L133.83 350.68 L133.39 351.53 L132.95 351.95 L131.62 352.38 L127.63 352.38M136.94 350.68 L136.94 356.63M140.92 347.7 L140.92 354.93 L141.37 356.21 L142.25 356.63 L143.14 356.63M139.59 350.68 L142.69 350.68M150.67 351.95 L149.78 351.1 L148.9 350.68 L147.57 350.68 L146.68 351.1 L145.8 351.95 L145.35 353.23 L145.35 354.08 L145.8 355.36 L146.68 356.21 L147.57 356.63 L148.9 356.63 L149.78 356.21 L150.67 355.36M153.77 347.7 L153.77 356.63M153.77 352.38 L155.1 351.1 L155.99 350.68 L157.31 350.68 L158.2 351.1 L158.64 352.38 L158.64 356.63M171.49 347.7 L167.95 356.63M171.49 347.7 L175.03 356.63M169.27 353.65 L173.7 353.65M177.25 350.68 L177.25 356.63M177.25 352.38 L178.58 351.1 L179.46 350.68 L180.79 350.68 L181.68 351.1 L182.12 352.38 L182.12 356.63M190.54 350.68 L190.54 357.48 L190.1 358.76 L189.65 359.18 L188.77 359.61 L187.44 359.61 L186.55 359.18M190.54 351.95 L189.65 351.1 L188.77 350.68 L187.44 350.68 L186.55 351.1 L185.67 351.95 L185.22 353.23 L185.22 354.08 L185.67 355.36 L186.55 356.21 L187.44 356.63 L188.77 356.63 L189.65 356.21 L190.54 355.36M194.08 347.7 L194.08 356.63M197.18 353.23 L202.5 353.23 L202.5 352.38 L202.06 351.53 L201.61 351.1 L200.73 350.68 L199.4 350.68 L198.51 351.1 L197.63 351.95 L197.18 353.23 L197.18 354.08 L197.63 355.36 L198.51 356.21 L199.4 356.63 L200.73 356.63 L201.61 356.21 L202.5 355.36" stroke="#fff" stroke-width="1.4" fill="none"/><path d="M135.94 346.7h2v2h-2z" fill="#fff"/></g>
<g role="img" aria-label="ELS-05 Pitch Angle"><title>ELS-05 Pitch Angle</title><path d="M68.27 365.32 L68.27 374.25M68.27 365.32 L74.03 365.32M68.27 369.57 L71.81 369.57M68.27 374.25 L74.03 374.25M76.69 365.32 L76.69 374.25M76.69 374.25 L82 374.25M89.98 366.6 L89.09 365.75 L87.76 365.32 L85.99 365.32 L84.66 365.75 L83.78 366.6 L83.78 367.45 L84.22 368.3 L84.66 368.72 L85.55 369.15 L88.21 370 L89.09 370.42 L89.53 370.85 L89.98 371.7 L89.98 372.98 L89.09 373.83 L87.76 374.25 L85.99 374.25 L84.66 373.83 L83.78 372.98M93.52 370.42 L98.84 370.42M105.04 365.32 L103.71 365.75 L102.82 367.02 L102.38 369.15 L102.38 370.42 L102.82 372.55 L103.71 373.83 L105.04 374.25 L105.93 374.25 L107.25 373.83 L108.14 372.55 L108.58 370.42 L108.58 369.15 L108.14 367.02 L107.25 365.75 L105.93 365.32 L105.04 365.32M116.56 365.32 L112.13 365.32 L111.69 369.15 L112.13 368.72 L113.46 368.3 L114.79 368.3 L116.11 368.72 L117 369.57 L117.44 370.85 L117.44 371.7 L117 372.98 L116.11 373.83 L114.79 374.25 L113.46 374.25 L112.13 373.83 L111.69 373.4 L111.24 372.55M127.63 365.32 L127.63 374.25M127.63 365.32 L131.62 365.32 L132.95 365.75 L133.39 366.17 L133.83 367.02 L133.83 368.3 L133.39 369.15 L132.95 369.57 L131.62 370 L127.63 370M136.94 368.3 L136.94 374.25M140.92 365.32 L140.92 372.55 L141.37 373.83 L142.25 374.25 L143.14 374.25M139.59 368.3 L142.69 368.3M150.67 369.57 L149.78 368.72 L148.9 368.3 L147.57 368.3 L146.68 368.72 L145.8 369.57 L145.35 370.85 L145.35 371.7 L145.8 372.98 L146.68 373.83 L147.57 374.25 L148.9 374.25 L149.78 373.83 L150.67 372.98M153.77 365.32 L153.77 374.25M153.77 370 L155.1 368.72 L155.99 368.3 L157.31 368.3 L158.2 368.72 L158.64 370 L158.64 374.25M171.49 365.32 L167.95 374.25M171.49 365.32 L175.03 374.25M169.27 371.27 L173.7 371.27M177.25 368.3 L177.25 374.25M177.25 370 L178.58 368.72 L179.46 368.3 L180.79 368.3 L181.68 368.72 L182.12 370 L182.12 374.25M190.54 368.3 L190.54 375.1 L190.1 376.38 L189.65 376.8 L188.77 377.23 L187.44 377.23 L186.55 376.8M190.54 369.57 L189.65 368.72 L188.77 368.3 L187.44 368.3 L186.55 368.72 L185.67 369.57 L185.22 370.85 L185.22 371.7 L185.67 372.98 L186.55 373.83 L187.44 374.25 L188.77 374.25 L189.65 373.83 L190.54 372.98M194.08 365.32 L194.08 374.25M197.18 370.85 L202.5 370.85 L202.5 370 L202.06 369.15 L201.61 368.72 L200.73 368.3 L199.4 368.3 L198.51 368.72 L197.63 369.57 L197.18 370.85 L197.18 371.7 L197.63 372.98 L198.51 373.83 L199.4 374.25 L200.73 374.25 L201.61 373.83 L202.5 372.98" stroke="#fff" stroke-width="1.4" fill="none"/><path d="M135.94 364.32h2v2h-2z" fill="#fff"/></g>
<g role="img" aria-label="ELS-04 Pitch Angle"><title>ELS-04 Pitch Angle</title><path d="M68.27 382.94 L68.27 391.87M68.27 382.94 L74.03 382.94M68.27 387.19 L71.81 387.19M68.27 391.87 L74.03 391.87M76.69 382.94 L76.69 391.87M76.69 391.87 L82 391.87M89.98 384.22 L89.09 383.37 L87.76 382.94 L85.99 382.94 L84.66 383.37 L83.78 384.22 L83.78 385.07 L84.22 385.92 L84.66 386.34 L85.55 386.77 L88.21 387.62 L89.09 388.04 L89.53 388.47 L89.98 389.32 L89.98 390.6 L89.09 391.45 L87.76 391.87 L85.99 391.87 L84.66 391.45 L83.78 390.6M93.52 388.04 L98.84 388.04M105.04 382.94 L103.71 383.37 L102.82 384.64 L102.38 386.77 L102.38 388.04 L102.82 390.17 L103.71 391.45 L105.04 391.87 L105.93 391.87 L107.25 391.45 L108.14 390.17 L108.58 388.04 L108.58 386.77 L108.14 384.64 L107.25 383.37 L105.93 382.94 L105.04 382.94M115.67 382.94 L111.24 388.89 L117.89 388.89M115.67 382.94 L115.67 391.87M127.63 382.94 L127.63 391.87M127.63 382.94 L131.62 382.94 L132.95 383.37 L133.39 383.79 L133.83 384.64 L133.83 385.92 L133.39 386.77 L132.95 387.19 L131.62 387.62 L127.63 387.62M136.94 385.92 L136.94 391.87M140.92 382.94 L140.92 390.17 L141.37 391.45 L142.25 391.87 L143.14 391.87M139.59 385.92 L142.69 385.92M150.67 387.19 L149.78 386.34 L148.9 385.92 L147.57 385.92 L146.68 386.34 L145.8 387.19 L145.35 388.47 L145.35 389.32 L145.8 390.6 L146.68 391.45 L147.57 391.87 L148.9 391.87 L149.78 391.45 L150.67 390.6M153.77 382.94 L153.77 391.87M153.77 387.62 L155.1 386.34 L155.99 385.92 L157.31 385.92 L158.2 386.34 L158.64 387.62 L158.64 391.87M171.49 382.94 L167.95 391.87M171.49 382.94 L175.03 391.87M169.27 388.89 L173.7 388.89M177.25 385.92 L177.25 391.87M177.25 387.62 L178.58 386.34 L179.46 385.92 L180.79 385.92 L181.68 386.34 L182.12 387.62 L182.12 391.87M190.54 385.92 L190.54 392.72 L190.1 394 L189.65 394.42 L188.77 394.85 L187.44 394.85 L186.55 394.42M190.54 387.19 L189.65 386.34 L188.77 385.92 L187.44 385.92 L186.55 386.34 L185.67 387.19 L185.22 388.47 L185.22 389.32 L185.67 390.6 L186.55 391.45 L187.44 391.87 L188.77 391.87 L189.65 391.45 L190.54 390.6M194.08 382.94 L194.08 391.87M197.18 388.47 L202.5 388.47 L202.5 387.62 L202.06 386.77 L201.61 386.34 L200.73 385.92 L199.4 385.92 L198.51 386.34 L197.63 387.19 L197.18 388.47 L197.18 389.32 L197.63 390.6 L198.51 391.45 L199.4 391.87 L200.73 391.87 L201.61 391.45 L202.5 390.6" stroke="#fff" stroke-width="1.4" fill="none"/><path d="M135.94 381.94h2v2h-2z" fill="#fff"/></g>
<g role="img" aria-label="ELS-03 Pitch Angle"><title>ELS-03 Pitch Angle</title><path d="M68.27 400.56 L68.27 409.49M68.27 400.56 L74.03 400.56M68.27 404.81 L71.81 404.81M68.27 409.49 L74.03 409.49M76.69 400.56 L76.69 409.49M76.69 409.49 L82 409.49M89.98 401.84 L89.09 400.99 L87.76 400.56 L85.99 400.56 L84.66 400.99 L83.78 401.84 L83.78 402.69 L84.22 403.54 L84.66 403.96 L85.55 404.39 L88.21 405.24 L89.09 405.66 L89.53 406.09 L89.98 406.94 L89.98 408.22 L89.09 409.07 L87.76 409.49 L85.99 409.49 L84.66 409.07 L83.78 408.22M93.52 405.66 L98.84 405.66M105.04 400.56 L103.71 400.99 L102.82 402.26 L102.38 404.39 L102.38 405.66 L102.82 407.79 L103.71 409.07 L105.04 409.49 L105.93 409.49 L107.25 409.07 L108.14 407.79 L108.58 405.66 L108.58 404.39 L108.14 402.26 L107.25 400.99 L105.93 400.56 L105.04 400.56M112.13 400.56 L117 400.56 L114.34 403.96 L115.67 403.96 L116.56 404.39 L117 404.81 L117.44 406.09 L117.44 406.94 L117 408.22 L116.11 409.07 L114.79 409.49 L113.46 409.49 L112.13 409.07 L111.69 408.64 L111.24 407.79M127.63 400.56 L127.63 409.49M127.63 400.56 L131.62 400.56 L132.95 400.99 L133.39 401.41 L133.83 402.26 L133.83 403.54 L133.39 404.39 L132.95 404.81 L131.62 405.24 L127.63 405.24M136.94 403.54 L136.94 409.49M140.92 400.56 L140.92 407.79 L141.37 409.07 L142.25 409.49 L143.14 409.49M139.59 403.54 L142.69 403.54M150.67 404.81 L149.78 403.96 L148.9 403.54 L147.57 403.54 L146.68 403.96 L145.8 404.81 L145.35 406.09 L145.35 406.94 L145.8 408.22 L146.68 409.07 L147.57 409.49 L148.9 409.49 L149.78 409.07 L150.67 408.22M153.77 400.56 L153.77 409.49M153.77 405.24 L155.1 403.96 L155.99 403.54 L157.31 403.54 L158.2 403.96 L158.64 405.24 L158.64 409.49M171.49 400.56 L167.95 409.49M171.49 400.56 L175.03 409.49M169.27 406.51 L173.7 406.51M177.25 403.54 L177.25 409.49M177.25 405.24 L178.58 403.96 L179.46 403.54 L180.79 403.54 L181.68 403.96 L182.12 405.24 L182.12 409.49M190.54 403.54 L190.54 410.34 L190.1 411.62 L189.65 412.04 L188.77 412.47 L187.44 412.47 L186.55 412.04M190.54 404.81 L189.65 403.96 L188.77 403.54 L187.44 403.54 L186.55 403.96 L185.67 404.81 L185.22 406.09 L185.22 406.94 L185.67 408.22 L186.55 409.07 L187.44 409.49 L188.77 409.49 L189.65 409.07 L190.54 408.22M194.08 400.56 L194.08 409.49M197.18 406.09 L202.5 406.09 L202.5 405.24 L202.06 404.39 L201.61 403.96 L200.73 403.54 L199.4 403.54 L198.51 403.96 L197.63 404.81 L197.18 406.09 L197.18 406.94 L197.63 408.22 L198.51 409.07 L199.4 409.49 L200.73 409.49 L201.61 409.07 L202.5 408.22" stroke="#fff" stroke-width="1.4" fill="none"/><path d="M135.94 399.56h2v2h-2z" fill="#fff"/></g>
<g role="img" aria-label="ELS-02 Pitch Angle"><title>ELS-02 Pitch Angle</title><path d="M68.27 418.18 L68.27 427.11M68.27 418.18 L74.03 418.18M68.27 422.43 L71.81 422.43M68.27 427.11 L74.03 427.11M76.69 418.18 L76.69 427.11M76.69 427.11 L82 427.11M89.98 419.46 L89.09 418.61 L87.76 418.18 L85.99 418.18 L84.66 418.61 L83.78 419.46 L83.78 420.31 L84.22 421.16 L84.66 421.58 L85.55 422.01 L88.21 422.86 L89.09 423.28 L89.53 423.71 L89.98 424.56 L89.98 425.84 L89.09 426.69 L87.76 427.11 L85.99 427.11 L84.66 426.69 L83.78 425.84M93.52 423.28 L98.84 423.28M105.04 418.18 L103.71 418.61 L102.82 419.88 L102.38 422.01 L102.38 423.28 L102.82 425.41 L103.71 426.69 L105.04 427.11 L105.93 427.11 L107.25 426.69 L108.14 425.41 L108.58 423.28 L108.58 422.01 L108.14 419.88 L107.25 418.61 L105.93 418.18 L105.04 418.18M111.69 420.31 L111.69 419.88 L112.13 419.03 L112.57 418.61 L113.46 418.18 L115.23 418.18 L116.11 418.61 L116.56 419.03 L117 419.88 L117 420.73 L116.56 421.58 L115.67 422.86 L111.24 427.11 L117.44 427.11M127.63 418.18 L127.63 427.11M127.63 418.18 L131.62 418.18 L132.95 418.61 L133.39 419.03 L133.83 419.88 L133.83 421.16 L133.39 422.01 L132.95 422.43 L131.62 422.86 L127.63 422.86M136.94 421.16 L136.94 427.11M140.92 418.18 L140.92 425.41 L141.37 426.69 L142.25 427.11 L143.14 427.11M139.59 421.16 L142.69 421.16M150.67 422.43 L149.78 421.58 L148.9 421.16 L147.57 421.16 L146.68 421.58 L145.8 422.43 L145.35 423.71 L145.35 424.56 L145.8 425.84 L146.68 426.69 L147.57 427.11 L148.9 427.11 L149.78 426.69 L150.67 425.84M153.77 418.18 L153.77 427.11M153.77 422.86 L155.1 421.58 L155.99 421.16 L157.31 421.16 L158.2 421.58 L158.64 422.86 L158.64 427.11M171.49 418.18 L167.95 427.11M171.49 418.18 L175.03 427.11M169.27 424.13 L173.7 424.13M177.25 421.16 L177.25 427.11M177.25 422.86 L178.58 421.58 L179.46 421.16 L180.79 421.16 L181.68 421.58 L182.12 422.86 L182.12 427.11M190.54 421.16 L190.54 427.96 L190.1 429.24 L189.65 429.66 L188.77 430.09 L187.44 430.09 L186.55 429.66M190.54 422.43 L189.65 421.58 L188.77 421.16 L187.44 421.16 L186.55 421.58 L185.67 422.43 L185.22 423.71 L185.22 424.56 L185.67 425.84 L186.55 426.69 L187.44 427.11 L188.77 427.11 L189.65 426.69 L190.54 425.84M194.08 418.18 L194.08 427.11M197.18 423.71 L202.5 423.71 L202.5 422.86 L202.06 422.01 L201.61 421.58 L200.73 421.16 L199.4 421.16 L198.51 421.58 L197.63 422.43 L197.18 423.71 L197.18 424.56 L197.63 425.84 L198.51 426.69 L199.4 427.11 L200.73 427.11 L201.61 426.69 L202.5 425.84" stroke="#fff" stroke-width="1.4" fill="none"/><path d="M135.94 417.18h2v2h-2z" fill="#fff"/></g>
<g role="img" aria-label="ELS-01 Pitch Angle"><title>ELS-01 Pitch Angle</title><path d="M71.82 435.8 L71.82 444.73M71.82 435.8 L77.57 435.8M71.82 440.05 L75.36 440.05M71.82 444.73 L77.57 444.73M80.23 435.8 L80.23 444.73M80.23 444.73 L85.55 444.73M93.52 437.08 L92.64 436.23 L91.31 435.8 L89.54 435.8 L88.21 436.23 L87.32 437.08 L87.32 437.93 L87.76 438.78 L88.21 439.2 L89.09 439.63 L91.75 440.48 L92.64 440.9 L93.08 441.33 L93.52 442.18 L93.52 443.46 L92.64 444.31 L91.31 444.73 L89.54 444.73 L88.21 444.31 L87.32 443.46M97.07 440.9 L102.38 440.9M108.58 435.8 L107.26 436.23 L106.37 437.5 L105.93 439.63 L105.93 440.9 L106.37 443.03 L107.26 444.31 L108.58 444.73 L109.47 444.73 L110.8 444.31 L111.69 443.03 L112.13 440.9 L112.13 439.63 L111.69 437.5 L110.8 436.23 L109.47 435.8 L108.58 435.8M114.34 437.5 L115.23 437.08 L116.56 435.8 L116.56 444.73M127.63 435.8 L127.63 444.73M127.63 435.8 L131.62 435.8 L132.95 436.23 L133.39 436.65 L133.84 437.5 L133.84 438.78 L133.39 439.63 L132.95 440.05 L131.62 440.48 L127.63 440.48M136.94 438.78 L136.94 444.73M140.92 435.8 L140.92 443.03 L141.37 444.31 L142.25 444.73 L143.14 444.73M139.59 438.78 L142.69 438.78M150.67 440.05 L149.78 439.2 L148.9 438.78 L147.57 438.78 L146.68 439.2 L145.8 440.05 L145.35 441.33 L145.35 442.18 L145.8 443.46 L146.68 444.31 L147.57 444.73 L148.9 444.73 L149.78 444.31 L150.67 443.46M153.77 435.8 L153.77 444.73M153.77 440.48 L155.1 439.2 L155.99 438.78 L157.31 438.78 L158.2 439.2 L158.64 440.48 L158.64 444.73M171.49 435.8 L167.95 444.73M171.49 435.8 L175.03 444.73M169.28 441.75 L173.71 441.75M177.25 438.78 L177.25 444.73M177.25 440.48 L178.58 439.2 L179.46 438.78 L180.79 438.78 L181.68 439.2 L182.12 440.48 L182.12 444.73M190.54 438.78 L190.54 445.58 L190.1 446.86 L189.65 447.28 L188.77 447.71 L187.44 447.71 L186.55 447.28M190.54 440.05 L189.65 439.2 L188.77 438.78 L187.44 438.78 L186.55 439.2 L185.67 440.05 L185.22 441.33 L185.22 442.18 L185.67 443.46 L186.55 444.31 L187.44 444.73 L188.77 444.73 L189.65 444.31 L190.54 443.46M194.08 435.8 L194.08 444.73M197.18 441.33 L202.5 441.33 L202.5 440.48 L202.06 439.63 L201.61 439.2 L200.73 438.78 L199.4 438.78 L198.51 439.2 L197.63 440.05 L197.18 441.33 L197.18 442.18 L197.63 443.46 L198.51 444.31 L199.4 444.73 L200.73 444.73 L201.61 444.31 L202.5 443.46" stroke="#fff" stroke-width="1.4" fill="none"/><path d="M135.94 434.8h2v2h-2z" fill="#fff"/></g>
<g role="img" aria-label="SAF_BXuT/Data Quality (L)"><title>SAF_BXuT/Data Quality (L)</title><path d="M219.6 482.38 L218.5 481.33 L216.85 480.8 L214.65 480.8 L213 481.33 L211.9 482.38 L211.9 483.44 L212.45 484.5 L213 485.02 L214.1 485.55 L217.4 486.61 L218.5 487.14 L219.05 487.66 L219.6 488.72 L219.6 490.3 L218.5 491.36 L216.85 491.89 L214.65 491.89 L213 491.36 L211.9 490.3M226.2 480.8 L221.8 491.89M226.2 480.8 L230.6 491.89M223.45 488.19 L228.95 488.19M233.35 480.8 L233.35 491.89M233.35 480.8 L240.5 480.8M233.35 486.08 L237.75 486.08M246 493.74 L251.5 493.74M246 494.42 L251.5 494.42M257 480.8 L257 491.89M257 480.8 L261.95 480.8 L263.6 481.33 L264.15 481.86 L264.7 482.91 L264.7 483.97 L264.15 485.02 L263.6 485.55 L261.95 486.08M257 486.08 L261.95 486.08 L263.6 486.61 L264.15 487.14 L264.7 488.19 L264.7 489.78 L264.15 490.83 L263.6 491.36 L261.95 491.89 L257 491.89M268 480.8 L275.7 491.89M268 491.89 L275.7 480.8M279.55 484.5 L279.55 489.78 L280.1 491.36 L281.2 491.89 L282.85 491.89 L283.95 491.36 L285.6 489.78M285.6 484.5 L285.6 491.89M292.2 480.8 L292.2 491.89M288.35 480.8 L296.05 480.8M307.6 478.69 L297.7 495.58M310.9 480.8 L310.9 491.89M310.9 480.8 L314.75 480.8 L316.4 481.33 L317.5 482.38 L318.05 483.44 L318.6 485.02 L318.6 487.66 L318.05 489.25 L317.5 490.3 L316.4 491.36 L314.75 491.89 L310.9 491.89M328.5 484.5 L328.5 491.89M328.5 486.08 L327.4 485.02 L326.3 484.5 L324.65 484.5 L323.55 485.02 L322.45 486.08 L321.9 487.66 L321.9 488.72 L322.45 490.3 L323.55 491.36 L324.65 491.89 L326.3 491.89 L327.4 491.36 L328.5 490.3M333.45 480.8 L333.45 489.78 L334 491.36 L335.1 491.89 L336.2 491.89M331.8 484.5 L335.65 484.5M345.55 484.5 L345.55 491.89M345.55 486.08 L344.45 485.02 L343.35 484.5 L341.7 484.5 L340.6 485.02 L339.5 486.08 L338.95 487.66 L338.95 488.72 L339.5 490.3 L340.6 491.36 L341.7 491.89 L343.35 491.89 L344.45 491.36 L345.55 490.3M361.5 480.8 L360.4 481.33 L359.3 482.38 L358.75 483.44 L358.2 485.02 L358.2 487.66 L358.75 489.25 L359.3 490.3 L360.4 491.36 L361.5 491.89 L363.7 491.89 L364.8 491.36 L365.9 490.3 L366.45 489.25 L367 487.66 L367 485.02 L366.45 483.44 L365.9 482.38 L364.8 481.33 L363.7 480.8 L361.5 480.8M363.15 489.78 L366.45 492.94M370.85 484.5 L370.85 489.78 L371.4 491.36 L372.5 491.89 L374.15 491.89 L375.25 491.36 L376.9 489.78M376.9 484.5 L376.9 491.89M387.35 484.5 L387.35 491.89M387.35 486.08 L386.25 485.02 L385.15 484.5 L383.5 484.5 L382.4 485.02 L381.3 486.08 L380.75 487.66 L380.75 488.72 L381.3 490.3 L382.4 491.36 L383.5 491.89 L385.15 491.89 L386.25 491.36 L387.35 490.3M391.75 480.8 L391.75 491.89M396.15 484.5 L396.15 491.89M401.1 480.8 L401.1 489.78 L401.65 491.36 L402.75 491.89 L403.85 491.89M399.45 484.5 L403.3 484.5M406.05 484.5 L409.35 491.89M412.65 484.5 L409.35 491.89 L408.25 494 L407.15 495.06 L406.05 495.58 L405.5 495.58M428.6 478.69 L427.5 479.74 L426.4 481.33 L425.3 483.44 L424.75 486.08 L424.75 488.19 L425.3 490.83 L426.4 492.94 L427.5 494.53 L428.6 495.58M432.45 480.8 L432.45 491.89M432.45 491.89 L439.05 491.89M441.25 478.69 L442.35 479.74 L443.45 481.33 L444.55 483.44 L445.1 486.08 L445.1 488.19 L444.55 490.83 L443.45 492.94 L442.35 494.53 L441.25 495.58" stroke="#fff" stroke-width="1.4" fill="none"/><path d="M395.15 479.8h2v2h-2z" fill="#fff"/></g>
<g role="img" aria-label="MEXORBMC/SPF X, Spacecraft (R)"><title>MEXORBMC/SPF X, Spacecraft (R)</title><path d="M531.9 480.4 L531.9 491.49M531.9 480.4 L536.3 491.49M540.7 480.4 L536.3 491.49M540.7 480.4 L540.7 491.49M545.1 480.4 L545.1 491.49M545.1 480.4 L552.25 480.4M545.1 485.68 L549.5 485.68M545.1 491.49 L552.25 491.49M555 480.4 L562.7 491.49M555 491.49 L562.7 480.4M569.3 480.4 L568.2 480.93 L567.1 481.98 L566.55 483.04 L566 484.62 L566 487.26 L566.55 488.85 L567.1 489.9 L568.2 490.96 L569.3 491.49 L571.5 491.49 L572.6 490.96 L573.7 489.9 L574.25 488.85 L574.8 487.26 L574.8 484.62 L574.25 483.04 L573.7 481.98 L572.6 480.93 L571.5 480.4 L569.3 480.4M578.65 480.4 L578.65 491.49M578.65 480.4 L583.6 480.4 L585.25 480.93 L585.8 481.46 L586.35 482.51 L586.35 483.57 L585.8 484.62 L585.25 485.15 L583.6 485.68 L578.65 485.68M582.5 485.68 L586.35 491.49M590.2 480.4 L590.2 491.49M590.2 480.4 L595.15 480.4 L596.8 480.93 L597.35 481.46 L597.9 482.51 L597.9 483.57 L597.35 484.62 L596.8 485.15 L595.15 485.68M590.2 485.68 L595.15 485.68 L596.8 486.21 L597.35 486.74 L597.9 487.79 L597.9 489.38 L597.35 490.43 L596.8 490.96 L595.15 491.49 L590.2 491.49M601.75 480.4 L601.75 491.49M601.75 480.4 L606.15 491.49M610.55 480.4 L606.15 491.49M610.55 480.4 L610.55 491.49M622.65 483.04 L622.1 481.98 L621 480.93 L619.9 480.4 L617.7 480.4 L616.6 480.93 L615.5 481.98 L614.95 483.04 L614.4 484.62 L614.4 487.26 L614.95 488.85 L615.5 489.9 L616.6 490.96 L617.7 491.49 L619.9 491.49 L621 490.96 L622.1 489.9 L622.65 488.85M635.3 478.29 L625.4 495.18M645.75 481.98 L644.65 480.93 L643 480.4 L640.8 480.4 L639.15 480.93 L638.05 481.98 L638.05 483.04 L638.6 484.1 L639.15 484.62 L640.25 485.15 L643.55 486.21 L644.65 486.74 L645.2 487.26 L645.75 488.32 L645.75 489.9 L644.65 490.96 L643 491.49 L640.8 491.49 L639.15 490.96 L638.05 489.9M649.6 480.4 L649.6 491.49M649.6 480.4 L654.55 480.4 L656.2 480.93 L656.75 481.46 L657.3 482.51 L657.3 484.1 L656.75 485.15 L656.2 485.68 L654.55 486.21 L649.6 486.21M661.15 480.4 L661.15 491.49M661.15 480.4 L668.3 480.4M661.15 485.68 L665.55 485.68M679.3 480.4 L687 491.49M679.3 491.49 L687 480.4M691.95 490.96 L691.4 491.49 L690.85 490.96 L691.4 490.43 L691.95 490.96 L691.95 492.02 L691.4 493.07 L690.85 493.6M712.3 481.98 L711.2 480.93 L709.55 480.4 L707.35 480.4 L705.7 480.93 L704.6 481.98 L704.6 483.04 L705.15 484.1 L705.7 484.62 L706.8 485.15 L710.1 486.21 L711.2 486.74 L711.75 487.26 L712.3 488.32 L712.3 489.9 L711.2 490.96 L709.55 491.49 L707.35 491.49 L705.7 490.96 L704.6 489.9M716.15 484.1 L716.15 495.18M716.15 485.68 L717.25 484.62 L718.35 484.1 L720 484.1 L721.1 484.62 L722.2 485.68 L722.75 487.26 L722.75 488.32 L722.2 489.9 L721.1 490.96 L720 491.49 L718.35 491.49 L717.25 490.96 L716.15 489.9M732.65 484.1 L732.65 491.49M732.65 485.68 L731.55 484.62 L730.45 484.1 L728.8 484.1 L727.7 484.62 L726.6 485.68 L726.05 487.26 L726.05 488.32 L726.6 489.9 L727.7 490.96 L728.8 491.49 L730.45 491.49 L731.55 490.96 L732.65 489.9M743.1 485.68 L742 484.62 L740.9 484.1 L739.25 484.1 L738.15 484.62 L737.05 485.68 L736.5 487.26 L736.5 488.32 L737.05 489.9 L738.15 490.96 L739.25 491.49 L740.9 491.49 L742 490.96 L743.1 489.9M746.4 487.26 L753 487.26 L753 486.21 L752.45 485.15 L751.9 484.62 L750.8 484.1 L749.15 484.1 L748.05 484.62 L746.95 485.68 L746.4 487.26 L746.4 488.32 L746.95 489.9 L748.05 490.96 L749.15 491.49 L750.8 491.49 L751.9 490.96 L753 489.9M762.9 485.68 L761.8 484.62 L760.7 484.1 L759.05 484.1 L757.95 484.62 L756.85 485.68 L756.3 487.26 L756.3 488.32 L756.85 489.9 L757.95 490.96 L759.05 491.49 L760.7 491.49 L761.8 490.96 L762.9 489.9M766.75 484.1 L766.75 491.49M766.75 487.26 L767.3 485.68 L768.4 484.62 L769.5 484.1 L771.15 484.1M779.95 484.1 L779.95 491.49M779.95 485.68 L778.85 484.62 L777.75 484.1 L776.1 484.1 L775 484.62 L773.9 485.68 L773.35 487.26 L773.35 488.32 L773.9 489.9 L775 490.96 L776.1 491.49 L777.75 491.49 L778.85 490.96 L779.95 489.9M787.65 480.4 L786.55 480.4 L785.45 480.93 L784.9 482.51 L784.9 491.49M783.25 484.1 L787.1 484.1M791.5 480.4 L791.5 489.38 L792.05 490.96 L793.15 491.49 L794.25 491.49M789.85 484.1 L793.7 484.1M810.2 478.29 L809.1 479.34 L808 480.93 L806.9 483.04 L806.35 485.68 L806.35 487.79 L806.9 490.43 L808 492.54 L809.1 494.13 L810.2 495.18M814.05 480.4 L814.05 491.49M814.05 480.4 L819 480.4 L820.65 480.93 L821.2 481.46 L821.75 482.51 L821.75 483.57 L821.2 484.62 L820.65 485.15 L819 485.68 L814.05 485.68M817.9 485.68 L821.75 491.49M825.05 478.29 L826.15 479.34 L827.25 480.93 L828.35 483.04 L828.9 485.68 L828.9 487.79 L828.35 490.43 L827.25 492.54 L826.15 494.13 L825.05 495.18" stroke="#00ff00" stroke-width="1.4" fill="none"/></g>
<g role="img" aria-label="4"><title>4</title><path d="M190.99 496.1 L186.56 502.05 L193.2 502.05M190.99 496.1 L190.99 505.03" stroke="#fff" stroke-width="1.4" fill="none"/></g>
<g role="img" aria-label="3"><title>3</title><path d="M187.88 531.5 L192.76 531.5 L190.1 534.9 L191.43 534.9 L192.31 535.33 L192.76 535.75 L193.2 537.03 L193.2 537.88 L192.76 539.16 L191.87 540.01 L190.54 540.43 L189.21 540.43 L187.88 540.01 L187.44 539.58 L187 538.73" stroke="#fff" stroke-width="1.4" fill="none"/></g>
<g role="img" aria-label="2"><title>2</title><path d="M187.44 569.03 L187.44 568.6 L187.88 567.75 L188.33 567.33 L189.21 566.9 L190.98 566.9 L191.87 567.33 L192.31 567.75 L192.76 568.6 L192.76 569.45 L192.31 570.3 L191.43 571.58 L187 575.83 L193.2 575.83" stroke="#fff" stroke-width="1.4" fill="none"/></g>
<g role="img" aria-label="1"><title>1</title><path d="M190.98 604 L191.87 603.58 L193.2 602.3 L193.2 611.23" stroke="#fff" stroke-width="1.4" fill="none"/></g>
<g role="img" aria-label="0"><title>0</title><path d="M189.66 637.7 L188.33 638.13 L187.44 639.4 L187 641.53 L187 642.8 L187.44 644.93 L188.33 646.21 L189.66 646.63 L190.54 646.63 L191.87 646.21 L192.76 644.93 L193.2 642.8 L193.2 641.53 L192.76 639.4 L191.87 638.13 L190.54 637.7 L189.66 637.7" stroke="#fff" stroke-width="1.4" fill="none"/></g>
<g role="img" aria-label="-1"><title>-1</title><path d="M182.57 678.2 L187.88 678.2M190.98 674.8 L191.87 674.38 L193.2 673.1 L193.2 682.03" stroke="#fff" stroke-width="1.4" fill="none"/></g>
<g role="img" aria-label="1.0e+04"><title>1.0e+04</title><path d="M846.19 497.8 L847.07 497.38 L848.4 496.1 L848.4 505.03M859.03 496.1 L857.7 496.53 L856.82 497.8 L856.38 499.93 L856.38 501.2 L856.82 503.33 L857.7 504.61 L859.03 505.03 L859.92 505.03 L861.25 504.61 L862.13 503.33 L862.58 501.2 L862.58 499.93 L862.13 497.8 L861.25 496.53 L859.92 496.1 L859.03 496.1M865.23 501.63 L870.55 501.63 L870.55 500.78 L870.11 499.93 L869.66 499.5 L868.78 499.08 L867.45 499.08 L866.56 499.5 L865.68 500.35 L865.23 501.63 L865.23 502.48 L865.68 503.76 L866.56 504.61 L867.45 505.03 L868.78 505.03 L869.66 504.61 L870.55 503.76M877.64 498.65 L877.64 503.76M874.98 501.2 L880.3 501.2M887.38 496.1 L886.06 496.53 L885.17 497.8 L884.73 499.93 L884.73 501.2 L885.17 503.33 L886.06 504.61 L887.38 505.03 L888.27 505.03 L889.6 504.61 L890.49 503.33 L890.93 501.2 L890.93 499.93 L890.49 497.8 L889.6 496.53 L888.27 496.1 L887.38 496.1M898.02 496.1 L893.59 502.05 L900.23 502.05M898.02 496.1 L898.02 505.03" stroke="#fff" stroke-width="1.4" fill="none"/><path d="M851.83 503.61h2v2h-2z" fill="#fff"/></g>
<g role="img" aria-label="6.0e+03"><title>6.0e+03</title><path d="M852.39 532.78 L851.94 531.93 L850.62 531.5 L849.73 531.5 L848.4 531.93 L847.51 533.2 L847.07 535.33 L847.07 537.45 L847.51 539.16 L848.4 540.01 L849.73 540.43 L850.17 540.43 L851.5 540.01 L852.39 539.16 L852.83 537.88 L852.83 537.45 L852.39 536.18 L851.5 535.33 L850.17 534.9 L849.73 534.9 L848.4 535.33 L847.51 536.18 L847.07 537.45M862.58 531.5 L861.25 531.93 L860.36 533.2 L859.92 535.33 L859.92 536.6 L860.36 538.73 L861.25 540.01 L862.58 540.43 L863.46 540.43 L864.79 540.01 L865.68 538.73 L866.12 536.6 L866.12 535.33 L865.68 533.2 L864.79 531.93 L863.46 531.5 L862.58 531.5M868.78 537.03 L874.09 537.03 L874.09 536.18 L873.65 535.33 L873.21 534.9 L872.32 534.48 L870.99 534.48 L870.11 534.9 L869.22 535.75 L868.78 537.03 L868.78 537.88 L869.22 539.16 L870.11 540.01 L870.99 540.43 L872.32 540.43 L873.21 540.01 L874.09 539.16M881.18 534.05 L881.18 539.16M878.52 536.6 L883.84 536.6M890.93 531.5 L889.6 531.93 L888.71 533.2 L888.27 535.33 L888.27 536.6 L888.71 538.73 L889.6 540.01 L890.93 540.43 L891.81 540.43 L893.14 540.01 L894.03 538.73 L894.47 536.6 L894.47 535.33 L894.03 533.2 L893.14 531.93 L891.81 531.5 L890.93 531.5M898.02 531.5 L902.89 531.5 L900.23 534.9 L901.56 534.9 L902.45 535.33 L902.89 535.75 L903.33 537.03 L903.33 537.88 L902.89 539.16 L902 540.01 L900.67 540.43 L899.35 540.43 L898.02 540.01 L897.57 539.58 L897.13 538.73" stroke="#fff" stroke-width="1.4" fill="none"/><path d="M855.38 539.01h2v2h-2z" fill="#fff"/></g>
<g role="img" aria-label="2.0e+03"><title>2.0e+03</title><path d="M847.07 569.03 L847.07 568.6 L847.51 567.75 L847.96 567.33 L848.84 566.9 L850.62 566.9 L851.5 567.33 L851.94 567.75 L852.39 568.6 L852.39 569.45 L851.94 570.3 L851.06 571.58 L846.63 575.83 L852.83 575.83M862.58 566.9 L861.25 567.33 L860.36 568.6 L859.92 570.73 L859.92 572 L860.36 574.13 L861.25 575.41 L862.58 575.83 L863.46 575.83 L864.79 575.41 L865.68 574.13 L866.12 572 L866.12 570.73 L865.68 568.6 L864.79 567.33 L863.46 566.9 L862.58 566.9M868.78 572.43 L874.09 572.43 L874.09 571.58 L873.65 570.73 L873.21 570.3 L872.32 569.88 L870.99 569.88 L870.11 570.3 L869.22 571.15 L868.78 572.43 L868.78 573.28 L869.22 574.56 L870.11 575.41 L870.99 575.83 L872.32 575.83 L873.21 575.41 L874.09 574.56M881.18 569.45 L881.18 574.56M878.52 572 L883.84 572M890.93 566.9 L889.6 567.33 L888.71 568.6 L888.27 570.73 L888.27 572 L888.71 574.13 L889.6 575.41 L890.93 575.83 L891.81 575.83 L893.14 575.41 L894.03 574.13 L894.47 572 L894.47 570.73 L894.03 568.6 L893.14 567.33 L891.81 566.9 L890.93 566.9M898.02 566.9 L902.89 566.9 L900.23 570.3 L901.56 570.3 L902.45 570.73 L902.89 571.15 L903.33 572.43 L903.33 573.28 L902.89 574.56 L902 575.41 L900.67 575.83 L899.35 575.83 L898.02 575.41 L897.57 574.98 L897.13 574.13" stroke="#fff" stroke-width="1.4" fill="none"/><path d="M855.38 574.41h2v2h-2z" fill="#fff"/></g>
<g role="img" aria-label="-2.0e+03"><title>-2.0e+03</title><path d="M847.51 607.4 L852.83 607.4M856.82 604.43 L856.82 604 L857.26 603.15 L857.7 602.73 L858.59 602.3 L860.36 602.3 L861.25 602.73 L861.69 603.15 L862.13 604 L862.13 604.85 L861.69 605.7 L860.8 606.98 L856.38 611.23 L862.58 611.23M872.32 602.3 L870.99 602.73 L870.11 604 L869.66 606.13 L869.66 607.4 L870.11 609.53 L870.99 610.81 L872.32 611.23 L873.21 611.23 L874.54 610.81 L875.42 609.53 L875.87 607.4 L875.87 606.13 L875.42 604 L874.54 602.73 L873.21 602.3 L872.32 602.3M878.52 607.83 L883.84 607.83 L883.84 606.98 L883.4 606.13 L882.95 605.7 L882.07 605.28 L880.74 605.28 L879.85 605.7 L878.97 606.55 L878.52 607.83 L878.52 608.68 L878.97 609.96 L879.85 610.81 L880.74 611.23 L882.07 611.23 L882.95 610.81 L883.84 609.96M890.93 604.85 L890.93 609.96M888.27 607.4 L893.59 607.4M900.67 602.3 L899.35 602.73 L898.46 604 L898.02 606.13 L898.02 607.4 L898.46 609.53 L899.35 610.81 L900.67 611.23 L901.56 611.23 L902.89 610.81 L903.78 609.53 L904.22 607.4 L904.22 606.13 L903.78 604 L902.89 602.73 L901.56 602.3 L900.67 602.3M907.76 602.3 L912.64 602.3 L909.98 605.7 L911.31 605.7 L912.19 606.13 L912.64 606.55 L913.08 607.83 L913.08 608.68 L912.64 609.96 L911.75 610.81 L910.42 611.23 L909.09 611.23 L907.76 610.81 L907.32 610.38 L906.88 609.53" stroke="#fff" stroke-width="1.4" fill="none"/><path d="M865.12 609.81h2v2h-2z" fill="#fff"/></g>
<g role="img" aria-label="-6.0e+03"><title>-6.0e+03</title><path d="M847.51 642.8 L852.83 642.8M862.13 638.98 L861.69 638.13 L860.36 637.7 L859.48 637.7 L858.15 638.13 L857.26 639.4 L856.82 641.53 L856.82 643.65 L857.26 645.36 L858.15 646.21 L859.48 646.63 L859.92 646.63 L861.25 646.21 L862.13 645.36 L862.58 644.08 L862.58 643.65 L862.13 642.38 L861.25 641.53 L859.92 641.1 L859.48 641.1 L858.15 641.53 L857.26 642.38 L856.82 643.65M872.32 637.7 L870.99 638.13 L870.11 639.4 L869.66 641.53 L869.66 642.8 L870.11 644.93 L870.99 646.21 L872.32 646.63 L873.21 646.63 L874.54 646.21 L875.42 644.93 L875.87 642.8 L875.87 641.53 L875.42 639.4 L874.54 638.13 L873.21 637.7 L872.32 637.7M878.52 643.23 L883.84 643.23 L883.84 642.38 L883.4 641.53 L882.95 641.1 L882.07 640.68 L880.74 640.68 L879.85 641.1 L878.97 641.95 L878.52 643.23 L878.52 644.08 L878.97 645.36 L879.85 646.21 L880.74 646.63 L882.07 646.63 L882.95 646.21 L883.84 645.36M890.93 640.25 L890.93 645.36M888.27 642.8 L893.59 642.8M900.67 637.7 L899.35 638.13 L898.46 639.4 L898.02 641.53 L898.02 642.8 L898.46 644.93 L899.35 646.21 L900.67 646.63 L901.56 646.63 L902.89 646.21 L903.78 644.93 L904.22 642.8 L904.22 641.53 L903.78 639.4 L902.89 638.13 L901.56 637.7 L900.67 637.7M907.76 637.7 L912.64 637.7 L909.98 641.1 L911.31 641.1 L912.19 641.53 L912.64 641.95 L913.08 643.23 L913.08 644.08 L912.64 645.36 L911.75 646.21 L910.42 646.63 L909.09 646.63 L907.76 646.21 L907.32 645.78 L906.88 644.93" stroke="#fff" stroke-width="1.4" fill="none"/><path d="M865.12 645.21h2v2h-2z" fill="#fff"/></g>
<g role="img" aria-label="-1.0e+04"><title>-1.0e+04</title><path d="M847.51 678.2 L852.83 678.2M855.93 674.8 L856.82 674.38 L858.15 673.1 L858.15 682.03M868.78 673.1 L867.45 673.53 L866.56 674.8 L866.12 676.93 L866.12 678.2 L866.56 680.33 L867.45 681.61 L868.78 682.03 L869.66 682.03 L870.99 681.61 L871.88 680.33 L872.32 678.2 L872.32 676.93 L871.88 674.8 L870.99 673.53 L869.66 673.1 L868.78 673.1M874.98 678.63 L880.3 678.63 L880.3 677.78 L879.85 676.93 L879.41 676.5 L878.52 676.08 L877.2 676.08 L876.31 676.5 L875.42 677.35 L874.98 678.63 L874.98 679.48 L875.42 680.76 L876.31 681.61 L877.2 682.03 L878.52 682.03 L879.41 681.61 L880.3 680.76M887.38 675.65 L887.38 680.76M884.73 678.2 L890.04 678.2M897.13 673.1 L895.8 673.53 L894.92 674.8 L894.47 676.93 L894.47 678.2 L894.92 680.33 L895.8 681.61 L897.13 682.03 L898.02 682.03 L899.35 681.61 L900.23 680.33 L900.67 678.2 L900.67 676.93 L900.23 674.8 L899.35 673.53 L898.02 673.1 L897.13 673.1M907.76 673.1 L903.33 679.05 L909.98 679.05M907.76 673.1 L907.76 682.03" stroke="#fff" stroke-width="1.4" fill="none"/><path d="M861.58 680.61h2v2h-2z" fill="#fff"/></g>
<g role="img" aria-label="NO DATA AVAILABLE for Mars"><title>NO DATA AVAILABLE for Mars</title><path d="M2.2 698.7 L2.2 707.01M2.2 698.7 L7.97 707.01M7.97 698.7 L7.97 707.01M13.32 698.7 L12.5 699.1 L11.68 699.89 L11.26 700.68 L10.85 701.86 L10.85 703.84 L11.26 705.03 L11.68 705.82 L12.5 706.61 L13.32 707.01 L14.97 707.01 L15.8 706.61 L16.62 705.82 L17.03 705.03 L17.44 703.84 L17.44 701.86 L17.03 700.68 L16.62 699.89 L15.8 699.1 L14.97 698.7 L13.32 698.7M26.92 698.7 L26.92 707.01M26.92 698.7 L29.8 698.7 L31.04 699.1 L31.86 699.89 L32.28 700.68 L32.69 701.86 L32.69 703.84 L32.28 705.03 L31.86 705.82 L31.04 706.61 L29.8 707.01 L26.92 707.01M37.63 698.7 L34.34 707.01M37.63 698.7 L40.93 707.01M35.57 704.24 L39.69 704.24M44.64 698.7 L44.64 707.01M41.75 698.7 L47.52 698.7M51.64 698.7 L48.34 707.01M51.64 698.7 L54.94 707.01M49.58 704.24 L53.7 704.24M65.65 698.7 L62.35 707.01M65.65 698.7 L68.94 707.01M63.59 704.24 L67.71 704.24M69.77 698.7 L73.06 707.01M76.36 698.7 L73.06 707.01M80.48 698.7 L77.18 707.01M80.48 698.7 L83.78 707.01M78.42 704.24 L82.54 704.24M85.84 698.7 L85.84 707.01M89.13 698.7 L89.13 707.01M89.13 707.01 L94.08 707.01M98.2 698.7 L94.9 707.01M98.2 698.7 L101.49 707.01M96.14 704.24 L100.26 704.24M103.55 698.7 L103.55 707.01M103.55 698.7 L107.26 698.7 L108.5 699.1 L108.91 699.49 L109.32 700.28 L109.32 701.07 L108.91 701.86 L108.5 702.26 L107.26 702.66M103.55 702.66 L107.26 702.66 L108.5 703.05 L108.91 703.45 L109.32 704.24 L109.32 705.42 L108.91 706.21 L108.5 706.61 L107.26 707.01 L103.55 707.01M112.2 698.7 L112.2 707.01M112.2 707.01 L117.15 707.01M119.21 698.7 L119.21 707.01M119.21 698.7 L124.56 698.7M119.21 702.66 L122.5 702.66M119.21 707.01 L124.56 707.01M136.1 698.7 L135.28 698.7 L134.45 699.1 L134.04 700.28 L134.04 707.01M132.8 701.47 L135.69 701.47M140.22 701.47 L139.4 701.86 L138.57 702.66 L138.16 703.84 L138.16 704.63 L138.57 705.82 L139.4 706.61 L140.22 707.01 L141.46 707.01 L142.28 706.61 L143.1 705.82 L143.52 704.63 L143.52 703.84 L143.1 702.66 L142.28 701.86 L141.46 701.47 L140.22 701.47M146.4 701.47 L146.4 707.01M146.4 703.84 L146.81 702.66 L147.64 701.86 L148.46 701.47 L149.7 701.47M158.35 698.7 L158.35 707.01M158.35 698.7 L161.64 707.01M164.94 698.7 L161.64 707.01M164.94 698.7 L164.94 707.01M172.77 701.47 L172.77 707.01M172.77 702.66 L171.94 701.86 L171.12 701.47 L169.88 701.47 L169.06 701.86 L168.24 702.66 L167.82 703.84 L167.82 704.63 L168.24 705.82 L169.06 706.61 L169.88 707.01 L171.12 707.01 L171.94 706.61 L172.77 705.82M176.06 701.47 L176.06 707.01M176.06 703.84 L176.48 702.66 L177.3 701.86 L178.12 701.47 L179.36 701.47M185.54 702.66 L185.13 701.86 L183.89 701.47 L182.66 701.47 L181.42 701.86 L181.01 702.66 L181.42 703.45 L182.24 703.84 L184.3 704.24 L185.13 704.63 L185.54 705.42 L185.54 705.82 L185.13 706.61 L183.89 707.01 L182.66 707.01 L181.42 706.61 L181.01 705.82" stroke="#fff" stroke-width="1.4" fill="none"/></g>
<g role="img" aria-label="Express / ELSSCIL"><title>Express / ELSSCIL</title><path d="M197.43 698.7 L197.43 706.82M197.43 698.7 L202.67 698.7M197.43 702.57 L200.65 702.57M197.43 706.82 L202.67 706.82M204.68 701.41 L209.11 706.82M209.11 701.41 L204.68 706.82M211.94 701.41 L211.94 709.53M211.94 702.57 L212.74 701.8 L213.55 701.41 L214.76 701.41 L215.56 701.8 L216.37 702.57 L216.77 703.73 L216.77 704.5 L216.37 705.66 L215.56 706.44 L214.76 706.82 L213.55 706.82 L212.74 706.44 L211.94 705.66M219.59 701.41 L219.59 706.82M219.59 703.73 L220 702.57 L220.8 701.8 L221.61 701.41 L222.82 701.41M224.43 703.73 L229.26 703.73 L229.26 702.96 L228.86 702.18 L228.46 701.8 L227.65 701.41 L226.44 701.41 L225.64 701.8 L224.83 702.57 L224.43 703.73 L224.43 704.5 L224.83 705.66 L225.64 706.44 L226.44 706.82 L227.65 706.82 L228.46 706.44 L229.26 705.66M236.12 702.57 L235.71 701.8 L234.5 701.41 L233.29 701.41 L232.09 701.8 L231.68 702.57 L232.09 703.34 L232.89 703.73 L234.91 704.12 L235.71 704.5 L236.12 705.28 L236.12 705.66 L235.71 706.44 L234.5 706.82 L233.29 706.82 L232.09 706.44 L231.68 705.66M242.97 702.57 L242.56 701.8 L241.35 701.41 L240.15 701.41 L238.94 701.8 L238.53 702.57 L238.94 703.34 L239.74 703.73 L241.76 704.12 L242.56 704.5 L242.97 705.28 L242.97 705.66 L242.56 706.44 L241.35 706.82 L240.15 706.82 L238.94 706.44 L238.53 705.66M258.68 697.15 L251.43 709.53M267.55 698.7 L267.55 706.82M267.55 698.7 L272.79 698.7M267.55 702.57 L270.77 702.57M267.55 706.82 L272.79 706.82M275.21 698.7 L275.21 706.82M275.21 706.82 L280.04 706.82M287.3 699.86 L286.49 699.09 L285.28 698.7 L283.67 698.7 L282.46 699.09 L281.65 699.86 L281.65 700.63 L282.06 701.41 L282.46 701.8 L283.27 702.18 L285.68 702.96 L286.49 703.34 L286.89 703.73 L287.3 704.5 L287.3 705.66 L286.49 706.44 L285.28 706.82 L283.67 706.82 L282.46 706.44 L281.65 705.66M295.36 699.86 L294.55 699.09 L293.34 698.7 L291.73 698.7 L290.52 699.09 L289.71 699.86 L289.71 700.63 L290.12 701.41 L290.52 701.8 L291.33 702.18 L293.74 702.96 L294.55 703.34 L294.95 703.73 L295.36 704.5 L295.36 705.66 L294.55 706.44 L293.34 706.82 L291.73 706.82 L290.52 706.44 L289.71 705.66M303.82 700.63 L303.42 699.86 L302.61 699.09 L301.8 698.7 L300.19 698.7 L299.39 699.09 L298.58 699.86 L298.18 700.63 L297.77 701.8 L297.77 703.73 L298.18 704.89 L298.58 705.66 L299.39 706.44 L300.19 706.82 L301.8 706.82 L302.61 706.44 L303.42 705.66 L303.82 704.89M306.64 698.7 L306.64 706.82M309.86 698.7 L309.86 706.82M309.86 706.82 L314.7 706.82" stroke="#fff" stroke-width="1.4" fill="none"/></g>
<g role="img" aria-label="Electron Energy" transform="rotate(-90)"><title>Electron Energy</title><path d="M-204.45 57.7 L-204.45 68.49M-204.45 57.7 L-197.5 57.7M-204.45 62.84 L-200.17 62.84M-204.45 68.49 L-197.5 68.49M-194.28 57.7 L-194.28 68.49M-190.54 64.38 L-184.12 64.38 L-184.12 63.35 L-184.66 62.32 L-185.19 61.81 L-186.26 61.3 L-187.87 61.3 L-188.94 61.81 L-190 62.84 L-190.54 64.38 L-190.54 65.4 L-190 66.94 L-188.94 67.97 L-187.87 68.49 L-186.26 68.49 L-185.19 67.97 L-184.12 66.94M-174.49 62.84 L-175.56 61.81 L-176.63 61.3 L-178.24 61.3 L-179.31 61.81 L-180.38 62.84 L-180.91 64.38 L-180.91 65.4 L-180.38 66.94 L-179.31 67.97 L-178.24 68.49 L-176.63 68.49 L-175.56 67.97 L-174.49 66.94M-170.21 57.7 L-170.21 66.43 L-169.68 67.97 L-168.61 68.49 L-167.53 68.49M-171.81 61.3 L-168.07 61.3M-164.32 61.3 L-164.32 68.49M-164.32 64.38 L-163.79 62.84 L-162.72 61.81 L-161.65 61.3 L-160.05 61.3M-155.23 61.3 L-156.3 61.81 L-157.37 62.84 L-157.91 64.38 L-157.91 65.4 L-157.37 66.94 L-156.3 67.97 L-155.23 68.49 L-153.62 68.49 L-152.56 67.97 L-151.49 66.94 L-150.95 65.4 L-150.95 64.38 L-151.49 62.84 L-152.56 61.81 L-153.62 61.3 L-155.23 61.3M-147.2 61.3 L-147.2 68.49M-147.2 63.35 L-145.6 61.81 L-144.53 61.3 L-142.93 61.3 L-141.86 61.81 L-141.32 63.35 L-141.32 68.49M-128.48 57.7 L-128.48 68.49M-128.48 57.7 L-121.52 57.7M-128.48 62.84 L-124.2 62.84M-128.48 68.49 L-121.52 68.49M-118.31 61.3 L-118.31 68.49M-118.31 63.35 L-116.71 61.81 L-115.64 61.3 L-114.03 61.3 L-112.97 61.81 L-112.43 63.35 L-112.43 68.49M-108.69 64.38 L-102.27 64.38 L-102.27 63.35 L-102.8 62.32 L-103.33 61.81 L-104.41 61.3 L-106.01 61.3 L-107.08 61.81 L-108.15 62.84 L-108.69 64.38 L-108.69 65.4 L-108.15 66.94 L-107.08 67.97 L-106.01 68.49 L-104.41 68.49 L-103.33 67.97 L-102.27 66.94M-98.52 61.3 L-98.52 68.49M-98.52 64.38 L-97.98 62.84 L-96.91 61.81 L-95.84 61.3 L-94.24 61.3M-85.68 61.3 L-85.68 69.51 L-86.22 71.05 L-86.75 71.57 L-87.82 72.08 L-89.42 72.08 L-90.49 71.57M-85.68 62.84 L-86.75 61.81 L-87.82 61.3 L-89.42 61.3 L-90.49 61.81 L-91.56 62.84 L-92.1 64.38 L-92.1 65.4 L-91.56 66.94 L-90.49 67.97 L-89.42 68.49 L-87.82 68.49 L-86.75 67.97 L-85.68 66.94M-82.47 61.3 L-79.26 68.49M-76.05 61.3 L-79.26 68.49 L-80.33 70.54 L-81.4 71.57 L-82.47 72.08 L-83 72.08" stroke="#fff" stroke-width="1.4" fill="none"/></g>
<g role="img" aria-label="(eV)" transform="rotate(-90)"><title>(eV)</title><path d="M-150.99 75.89 L-152.06 76.91 L-153.12 78.45 L-154.19 80.51 L-154.73 83.08 L-154.73 85.13 L-154.19 87.7 L-153.12 89.75 L-152.06 91.29 L-150.99 92.32M-147.78 84.62 L-141.36 84.62 L-141.36 83.59 L-141.89 82.56 L-142.43 82.05 L-143.5 81.54 L-145.1 81.54 L-146.17 82.05 L-147.24 83.08 L-147.78 84.62 L-147.78 85.64 L-147.24 87.18 L-146.17 88.21 L-145.1 88.73 L-143.5 88.73 L-142.43 88.21 L-141.36 87.18M-139.22 77.94 L-134.94 88.73M-130.66 77.94 L-134.94 88.73M-128.52 75.89 L-127.45 76.91 L-126.38 78.45 L-125.31 80.51 L-124.77 83.08 L-124.77 85.13 L-125.31 87.7 L-126.38 89.75 L-127.45 91.29 L-128.52 92.32" stroke="#fff" stroke-width="1.4" fill="none"/></g>
<g role="img" aria-label="Raw Data Quality" transform="rotate(-90)"><title>Raw Data Quality</title><path d="M-659.35 58.2 L-659.35 68.99M-659.35 58.2 L-654.54 58.2 L-652.93 58.71 L-652.4 59.23 L-651.86 60.25 L-651.86 61.28 L-652.4 62.31 L-652.93 62.82 L-654.54 63.34 L-659.35 63.34M-655.61 63.34 L-651.86 68.99M-642.23 61.8 L-642.23 68.99M-642.23 63.34 L-643.3 62.31 L-644.37 61.8 L-645.98 61.8 L-647.05 62.31 L-648.12 63.34 L-648.65 64.88 L-648.65 65.9 L-648.12 67.44 L-647.05 68.47 L-645.98 68.99 L-644.37 68.99 L-643.3 68.47 L-642.23 67.44M-638.49 61.8 L-636.35 68.99M-634.21 61.8 L-636.35 68.99M-634.21 61.8 L-632.07 68.99M-629.93 61.8 L-632.07 68.99M-617.62 58.2 L-617.62 68.99M-617.62 58.2 L-613.88 58.2 L-612.27 58.71 L-611.2 59.74 L-610.67 60.77 L-610.13 62.31 L-610.13 64.88 L-610.67 66.42 L-611.2 67.44 L-612.27 68.47 L-613.88 68.99 L-617.62 68.99M-600.5 61.8 L-600.5 68.99M-600.5 63.34 L-601.57 62.31 L-602.64 61.8 L-604.25 61.8 L-605.32 62.31 L-606.39 63.34 L-606.92 64.88 L-606.92 65.9 L-606.39 67.44 L-605.32 68.47 L-604.25 68.99 L-602.64 68.99 L-601.57 68.47 L-600.5 67.44M-595.69 58.2 L-595.69 66.93 L-595.15 68.47 L-594.08 68.99 L-593.01 68.99M-597.29 61.8 L-593.55 61.8M-583.92 61.8 L-583.92 68.99M-583.92 63.34 L-584.99 62.31 L-586.06 61.8 L-587.66 61.8 L-588.73 62.31 L-589.8 63.34 L-590.34 64.88 L-590.34 65.9 L-589.8 67.44 L-588.73 68.47 L-587.66 68.99 L-586.06 68.99 L-584.99 68.47 L-583.92 67.44M-568.4 58.2 L-569.47 58.71 L-570.54 59.74 L-571.08 60.77 L-571.61 62.31 L-571.61 64.88 L-571.08 66.42 L-570.54 67.44 L-569.47 68.47 L-568.4 68.99 L-566.26 68.99 L-565.19 68.47 L-564.12 67.44 L-563.59 66.42 L-563.05 64.88 L-563.05 62.31 L-563.59 60.77 L-564.12 59.74 L-565.19 58.71 L-566.26 58.2 L-568.4 58.2M-566.8 66.93 L-563.59 70.01M-559.31 61.8 L-559.31 66.93 L-558.77 68.47 L-557.7 68.99 L-556.1 68.99 L-555.03 68.47 L-553.42 66.93M-553.42 61.8 L-553.42 68.99M-543.26 61.8 L-543.26 68.99M-543.26 63.34 L-544.33 62.31 L-545.4 61.8 L-547 61.8 L-548.07 62.31 L-549.14 63.34 L-549.68 64.88 L-549.68 65.9 L-549.14 67.44 L-548.07 68.47 L-547 68.99 L-545.4 68.99 L-544.33 68.47 L-543.26 67.44M-538.98 58.2 L-538.98 68.99M-534.7 61.8 L-534.7 68.99M-529.88 58.2 L-529.88 66.93 L-529.35 68.47 L-528.28 68.99 L-527.21 68.99M-531.49 61.8 L-527.74 61.8M-525.07 61.8 L-521.86 68.99M-518.65 61.8 L-521.86 68.99 L-522.93 71.04 L-524 72.07 L-525.07 72.58 L-525.6 72.58" stroke="#fff" stroke-width="1.4" fill="none"/><path d="M-535.7 57.2h2v2h-2z" fill="#fff"/></g>
<g role="img" aria-label="(Raw)" transform="rotate(-90)"><title>(Raw)</title><path d="M-608.09 76.99 L-609.16 78.01 L-610.23 79.55 L-611.3 81.61 L-611.84 84.18 L-611.84 86.23 L-611.3 88.8 L-610.23 90.85 L-609.16 92.39 L-608.09 93.42M-604.35 79.04 L-604.35 89.83M-604.35 79.04 L-599.53 79.04 L-597.93 79.55 L-597.39 80.07 L-596.86 81.09 L-596.86 82.12 L-597.39 83.15 L-597.93 83.66 L-599.53 84.18 L-604.35 84.18M-600.6 84.18 L-596.86 89.83M-587.23 82.64 L-587.23 89.83M-587.23 84.18 L-588.3 83.15 L-589.37 82.64 L-590.97 82.64 L-592.04 83.15 L-593.11 84.18 L-593.64 85.72 L-593.64 86.74 L-593.11 88.28 L-592.04 89.31 L-590.97 89.83 L-589.37 89.83 L-588.3 89.31 L-587.23 88.28M-583.48 82.64 L-581.34 89.83M-579.2 82.64 L-581.34 89.83M-579.2 82.64 L-577.06 89.83M-574.92 82.64 L-577.06 89.83M-571.71 76.99 L-570.64 78.01 L-569.57 79.55 L-568.5 81.61 L-567.97 84.18 L-567.97 86.23 L-568.5 88.8 L-569.57 90.85 L-570.64 92.39 L-571.71 93.42" stroke="#fff" stroke-width="1.4" fill="none"/></g>
<g role="img" aria-label="Component Distance" transform="rotate(90)"><title>Component Distance</title><path d="M511.96 -979.43 L511.43 -980.46 L510.35 -981.49 L509.28 -982 L507.14 -982 L506.07 -981.49 L505 -980.46 L504.47 -979.43 L503.94 -977.89 L503.94 -975.32 L504.47 -973.78 L505 -972.76 L506.07 -971.73 L507.14 -971.21 L509.28 -971.21 L510.35 -971.73 L511.43 -972.76 L511.96 -973.78M517.85 -978.4 L516.77 -977.89 L515.7 -976.86 L515.17 -975.32 L515.17 -974.3 L515.7 -972.76 L516.77 -971.73 L517.85 -971.21 L519.45 -971.21 L520.52 -971.73 L521.59 -972.76 L522.12 -974.3 L522.12 -975.32 L521.59 -976.86 L520.52 -977.89 L519.45 -978.4 L517.85 -978.4M525.87 -978.4 L525.87 -971.21M525.87 -976.35 L527.48 -977.89 L528.54 -978.4 L530.15 -978.4 L531.22 -977.89 L531.75 -976.35 L531.75 -971.21M531.75 -976.35 L533.36 -977.89 L534.43 -978.4 L536.03 -978.4 L537.11 -977.89 L537.64 -976.35 L537.64 -971.21M541.92 -978.4 L541.92 -967.62M541.92 -976.86 L542.99 -977.89 L544.06 -978.4 L545.66 -978.4 L546.74 -977.89 L547.8 -976.86 L548.34 -975.32 L548.34 -974.3 L547.8 -972.76 L546.74 -971.73 L545.66 -971.21 L544.06 -971.21 L542.99 -971.73 L541.92 -972.76M554.23 -978.4 L553.15 -977.89 L552.09 -976.86 L551.55 -975.32 L551.55 -974.3 L552.09 -972.76 L553.15 -971.73 L554.23 -971.21 L555.83 -971.21 L556.9 -971.73 L557.97 -972.76 L558.5 -974.3 L558.5 -975.32 L557.97 -976.86 L556.9 -977.89 L555.83 -978.4 L554.23 -978.4M562.25 -978.4 L562.25 -971.21M562.25 -976.35 L563.86 -977.89 L564.92 -978.4 L566.53 -978.4 L567.6 -977.89 L568.13 -976.35 L568.13 -971.21M571.88 -975.32 L578.3 -975.32 L578.3 -976.35 L577.76 -977.38 L577.23 -977.89 L576.16 -978.4 L574.55 -978.4 L573.49 -977.89 L572.41 -976.86 L571.88 -975.32 L571.88 -974.3 L572.41 -972.76 L573.49 -971.73 L574.55 -971.21 L576.16 -971.21 L577.23 -971.73 L578.3 -972.76M582.04 -978.4 L582.04 -971.21M582.04 -976.35 L583.65 -977.89 L584.72 -978.4 L586.33 -978.4 L587.39 -977.89 L587.93 -976.35 L587.93 -971.21M592.75 -982 L592.75 -973.27 L593.28 -971.73 L594.35 -971.21 L595.42 -971.21M591.14 -978.4 L594.88 -978.4M607.19 -982 L607.19 -971.21M607.19 -982 L610.93 -982 L612.54 -981.49 L613.61 -980.46 L614.14 -979.43 L614.68 -977.89 L614.68 -975.32 L614.14 -973.78 L613.61 -972.76 L612.54 -971.73 L610.93 -971.21 L607.19 -971.21M618.42 -978.4 L618.42 -971.21M628.05 -976.86 L627.52 -977.89 L625.91 -978.4 L624.31 -978.4 L622.7 -977.89 L622.17 -976.86 L622.7 -975.84 L623.77 -975.32 L626.45 -974.81 L627.52 -974.3 L628.05 -973.27 L628.05 -972.76 L627.52 -971.73 L625.91 -971.21 L624.31 -971.21 L622.7 -971.73 L622.17 -972.76M632.34 -982 L632.34 -973.27 L632.87 -971.73 L633.94 -971.21 L635.01 -971.21M630.73 -978.4 L634.48 -978.4M644.11 -978.4 L644.11 -971.21M644.11 -976.86 L643.03 -977.89 L641.97 -978.4 L640.36 -978.4 L639.29 -977.89 L638.22 -976.86 L637.68 -975.32 L637.68 -974.3 L638.22 -972.76 L639.29 -971.73 L640.36 -971.21 L641.97 -971.21 L643.03 -971.73 L644.11 -972.76M648.38 -978.4 L648.38 -971.21M648.38 -976.35 L649.99 -977.89 L651.06 -978.4 L652.66 -978.4 L653.74 -977.89 L654.27 -976.35 L654.27 -971.21M664.43 -976.86 L663.37 -977.89 L662.29 -978.4 L660.69 -978.4 L659.62 -977.89 L658.55 -976.86 L658.01 -975.32 L658.01 -974.3 L658.55 -972.76 L659.62 -971.73 L660.69 -971.21 L662.29 -971.21 L663.37 -971.73 L664.43 -972.76M667.64 -975.32 L674.07 -975.32 L674.07 -976.35 L673.53 -977.38 L673 -977.89 L671.92 -978.4 L670.32 -978.4 L669.25 -977.89 L668.18 -976.86 L667.64 -975.32 L667.64 -974.3 L668.18 -972.76 L669.25 -971.73 L670.32 -971.21 L671.92 -971.21 L673 -971.73 L674.07 -972.76" stroke="#fff" stroke-width="1.4" fill="none"/><path d="M617.42 -983h2v2h-2z" fill="#fff"/></g>
<g role="img" aria-label="(km)" transform="rotate(90)"><title>(km)</title><path d="M575.42 -965.01 L574.35 -963.99 L573.28 -962.45 L572.21 -960.39 L571.68 -957.82 L571.68 -955.77 L572.21 -953.2 L573.28 -951.15 L574.35 -949.61 L575.42 -948.58M579.17 -962.96 L579.17 -952.17M584.52 -959.36 L579.17 -954.23M581.31 -956.28 L585.05 -952.17M588.26 -959.36 L588.26 -952.17M588.26 -957.31 L589.87 -958.85 L590.94 -959.36 L592.54 -959.36 L593.61 -958.85 L594.15 -957.31 L594.15 -952.17M594.15 -957.31 L595.75 -958.85 L596.82 -959.36 L598.43 -959.36 L599.5 -958.85 L600.03 -957.31 L600.03 -952.17M603.78 -965.01 L604.85 -963.99 L605.92 -962.45 L606.99 -960.39 L607.52 -957.82 L607.52 -955.77 L606.99 -953.2 L605.92 -951.15 L604.85 -949.61 L603.78 -948.58" stroke="#fff" stroke-width="1.4" fill="none"/></g>
</g>
</svg></body></html>
